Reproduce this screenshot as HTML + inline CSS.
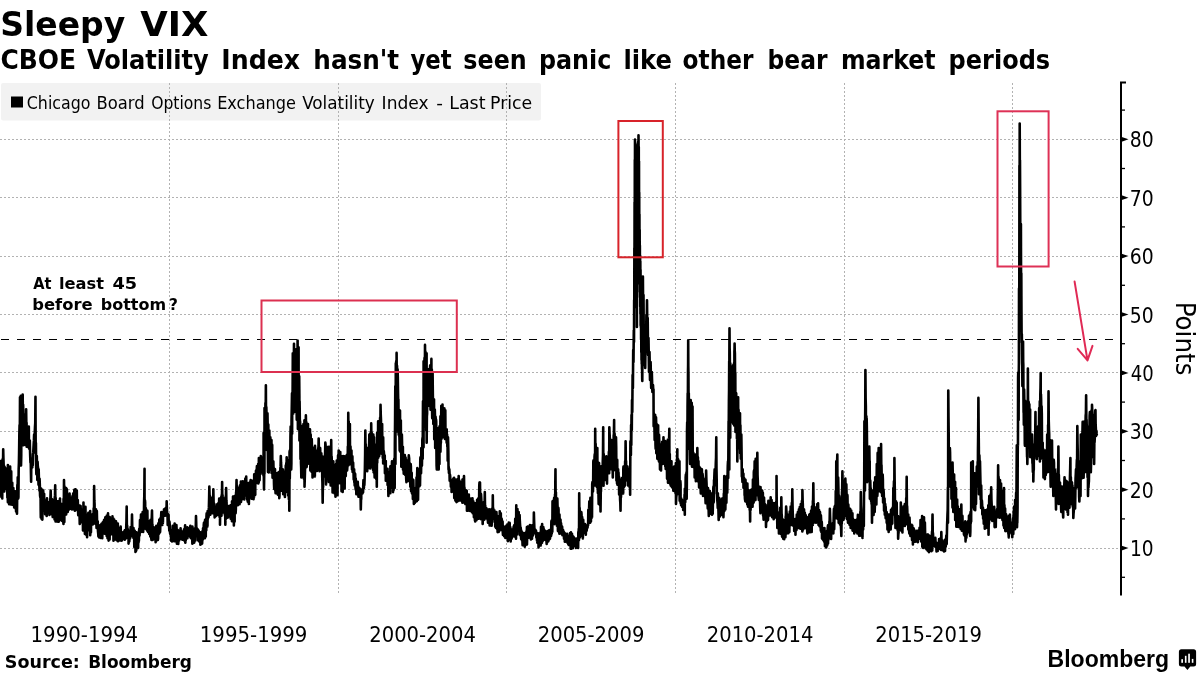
<!DOCTYPE html>
<html lang="en"><head><meta charset="utf-8"><title>Sleepy VIX</title>
<style>
html,body{margin:0;padding:0;background:#fff;}
body{width:1200px;height:675px;overflow:hidden;position:relative;font-family:"DejaVu Sans","Liberation Sans",sans-serif;}
svg{position:absolute;left:0;top:0;display:block}
text{font-family:"DejaVu Sans","Liberation Sans",sans-serif;fill:#000}
.cond{font-family:"DejaVu Sans Condensed","DejaVu Sans","Liberation Sans",sans-serif}
.lib{font-family:"Liberation Sans","DejaVu Sans",sans-serif}
.b{font-weight:bold}
.grid{stroke:#b2b2b2;stroke-width:1;stroke-dasharray:2 2;fill:none;shape-rendering:crispEdges}
.red{stroke-width:2;fill:none}
</style></head><body>
<svg width="1200" height="675" viewBox="0 0 1200 675">
<rect x="0" y="0" width="1200" height="675" fill="#fff"/>
<rect x="1" y="83" width="540" height="37.5" rx="2" fill="#f2f2f2"/>
<line class="grid" x1="169.5" y1="83" x2="169.5" y2="595"/>
<line class="grid" x1="338.5" y1="83" x2="338.5" y2="595"/>
<line class="grid" x1="506.5" y1="83" x2="506.5" y2="595"/>
<line class="grid" x1="675.5" y1="83" x2="675.5" y2="595"/>
<line class="grid" x1="844.5" y1="83" x2="844.5" y2="595"/>
<line class="grid" x1="1012.5" y1="83" x2="1012.5" y2="595"/>
<line class="grid" x1="0" y1="548.5" x2="1120" y2="548.5"/>
<line class="grid" x1="0" y1="489.5" x2="1120" y2="489.5"/>
<line class="grid" x1="0" y1="431.5" x2="1120" y2="431.5"/>
<line class="grid" x1="0" y1="372.5" x2="1120" y2="372.5"/>
<line class="grid" x1="0" y1="314.5" x2="1120" y2="314.5"/>
<line class="grid" x1="0" y1="256.5" x2="1120" y2="256.5"/>
<line class="grid" x1="0" y1="197.5" x2="1120" y2="197.5"/>
<line class="grid" x1="0" y1="139.5" x2="1120" y2="139.5"/>
<path d="M0.00 461.3 L0.19 485.0 L0.38 467.8 L0.58 467.4 L0.77 465.5 L1.00 463.5 L1.23 495.3 L1.44 497.1 L1.64 460.5 L1.84 465.7 L2.04 494.8 L2.24 498.4 L2.41 464.1 L2.58 479.1 L2.75 458.7 L2.98 466.8 L3.20 449.3 L3.43 458.2 L3.65 464.9 L3.86 477.8 L4.07 489.0 L4.28 491.5 L4.48 466.6 L4.70 467.4 L4.92 478.5 L5.14 489.0 L5.35 487.3 L5.53 484.2 L5.71 470.3 L5.95 468.6 L6.19 470.1 L6.43 482.1 L6.67 469.3 L6.91 478.6 L7.15 482.6 L7.39 497.7 L7.63 487.3 L7.87 502.3 L7.89 465.1 L8.12 484.3 L8.35 471.0 L8.58 468.0 L8.81 476.8 L9.05 472.1 L9.11 504.2 L9.31 492.7 L9.52 495.5 L9.72 494.0 L9.93 476.9 L10.13 466.6 L10.36 491.9 L10.58 498.2 L10.81 504.4 L11.03 502.5 L11.22 471.4 L11.44 501.8 L11.65 499.0 L11.87 486.7 L12.09 504.8 L12.26 482.8 L12.47 500.6 L12.69 489.9 L12.90 491.3 L13.12 492.1 L13.33 488.0 L13.55 494.2 L13.77 494.4 L13.99 504.2 L14.21 507.4 L14.29 495.0 L14.48 499.3 L14.67 499.0 L14.86 495.4 L15.05 506.0 L15.18 493.5 L15.32 491.3 L15.51 508.6 L15.70 507.0 L15.89 499.2 L16.08 511.6 L16.31 507.7 L16.53 494.6 L16.76 503.3 L16.98 513.7 L17.18 495.6 L17.37 484.8 L17.56 492.9 L17.76 477.2 L17.99 492.7 L18.21 498.6 L18.44 497.1 L18.67 469.3 L18.89 463.2 L19.11 451.0 L19.33 434.4 L19.56 425.1 L19.78 443.4 L20.00 397.3 L20.19 411.0 L20.38 399.5 L20.58 427.0 L20.77 395.9 L20.83 445.8 L21.03 465.4 L21.24 455.8 L21.44 408.4 L21.64 437.2 L21.66 400.1 L21.86 402.9 L22.06 398.8 L22.26 415.7 L22.46 420.8 L22.67 394.6 L22.88 413.6 L23.10 404.6 L23.32 412.6 L23.54 445.3 L23.76 414.4 L23.96 425.8 L24.15 433.8 L24.34 430.2 L24.53 429.3 L24.78 442.6 L25.02 440.0 L25.27 444.7 L25.52 444.5 L25.68 424.9 L25.91 427.5 L26.13 409.3 L26.36 425.5 L26.58 422.8 L26.67 446.7 L26.89 445.8 L27.11 444.5 L27.33 434.0 L27.56 432.4 L27.77 446.7 L27.98 437.4 L28.18 429.2 L28.39 427.4 L28.59 427.3 L28.80 426.6 L29.00 448.6 L29.20 448.4 L29.41 441.7 L29.61 448.7 L29.81 440.5 L30.01 449.8 L30.22 456.8 L30.44 462.4 L30.67 458.6 L30.89 469.8 L31.12 481.8 L31.29 460.6 L31.46 466.1 L31.64 459.2 L31.86 463.6 L32.08 465.9 L32.31 467.4 L32.53 461.3 L32.76 465.1 L32.99 454.1 L33.22 452.9 L33.45 448.2 L33.68 444.0 L33.90 440.9 L34.13 434.6 L34.35 437.4 L34.58 452.4 L34.80 431.4 L35.02 426.3 L35.24 423.2 L35.47 396.8 L35.69 447.6 L35.92 442.9 L36.14 466.6 L36.37 474.3 L36.59 464.3 L36.80 456.0 L36.98 466.6 L37.16 469.3 L37.33 480.0 L37.47 469.9 L37.60 461.7 L37.80 466.2 L38.00 467.2 L38.20 476.0 L38.40 479.9 L38.53 484.7 L38.67 469.3 L38.87 477.3 L39.07 485.8 L39.27 478.7 L39.47 490.7 L39.59 478.7 L39.82 484.7 L40.06 495.4 L40.30 497.4 L40.53 488.0 L40.67 509.3 L40.80 517.4 L40.97 510.9 L41.13 493.6 L41.30 488.9 L41.49 491.6 L41.68 518.9 L41.91 503.1 L42.14 512.5 L42.38 519.6 L42.47 489.9 L42.71 498.6 L42.96 495.4 L43.20 490.6 L43.44 499.4 L43.67 494.0 L43.91 496.4 L44.14 493.8 L44.19 509.4 L44.42 510.4 L44.65 509.2 L44.88 500.3 L45.11 514.2 L45.33 501.3 L45.34 510.8 L45.59 511.8 L45.83 507.9 L46.07 507.8 L46.31 503.5 L46.49 509.7 L46.67 516.0 L46.83 502.5 L47.00 498.2 L47.21 510.1 L47.42 507.7 L47.63 512.4 L47.81 511.0 L48.00 502.6 L48.21 509.9 L48.42 512.6 L48.63 513.0 L48.85 505.4 L49.07 506.4 L49.28 502.1 L49.41 514.9 L49.54 512.8 L49.76 506.2 L49.99 505.3 L50.22 500.0 L50.44 497.6 L50.67 490.6 L50.89 498.7 L51.12 499.0 L51.29 514.0 L51.46 507.7 L51.63 512.3 L51.80 501.2 L51.98 503.0 L52.15 499.3 L52.36 506.3 L52.56 515.1 L52.76 517.0 L52.95 504.7 L53.14 502.3 L53.33 501.3 L53.54 504.1 L53.75 512.8 L53.96 506.0 L54.17 505.3 L54.39 509.7 L54.60 519.5 L54.75 497.8 L54.98 495.4 L55.20 485.3 L55.38 499.9 L55.55 521.5 L55.65 497.8 L55.88 504.1 L56.11 503.0 L56.34 501.2 L56.57 505.9 L56.80 521.4 L56.98 520.2 L57.16 512.9 L57.33 501.3 L57.55 510.9 L57.78 510.3 L58.00 521.8 L58.18 501.3 L58.37 509.7 L58.56 505.0 L58.75 521.7 L58.98 519.1 L59.21 502.2 L59.41 512.9 L59.60 504.7 L59.80 502.0 L60.00 498.6 L60.20 516.2 L60.40 513.6 L60.61 503.7 L60.81 510.8 L61.01 506.0 L61.09 520.3 L61.28 518.4 L61.48 517.8 L61.67 512.9 L61.87 504.0 L62.02 504.1 L62.16 521.0 L62.38 519.5 L62.60 517.0 L62.82 517.1 L63.03 512.1 L63.25 521.2 L63.47 524.0 L63.55 498.7 L63.77 513.3 L64.00 480.0 L64.17 492.6 L64.34 522.1 L64.45 486.2 L64.67 497.0 L64.89 510.3 L65.11 507.5 L65.33 514.7 L65.53 511.1 L65.73 500.0 L65.93 505.5 L66.13 488.0 L66.15 514.4 L66.34 501.5 L66.54 496.3 L66.73 497.6 L66.93 489.3 L67.11 507.6 L67.34 503.9 L67.56 510.6 L67.78 511.9 L68.00 496.0 L68.20 497.5 L68.40 507.5 L68.60 496.6 L68.80 503.8 L69.00 501.2 L69.12 509.4 L69.36 503.1 L69.59 493.6 L69.83 507.2 L70.07 507.9 L70.27 502.0 L70.47 500.3 L70.67 498.6 L70.80 508.1 L70.94 508.8 L71.18 500.8 L71.41 497.7 L71.61 497.7 L71.80 502.0 L72.00 509.4 L72.13 497.4 L72.27 499.4 L72.47 496.1 L72.68 506.4 L72.89 509.2 L73.11 494.1 L73.33 493.3 L73.57 500.5 L73.81 504.5 L73.99 508.0 L74.17 493.6 L74.35 489.9 L74.52 498.6 L74.70 507.6 L74.87 510.8 L75.09 502.6 L75.31 491.9 L75.54 489.2 L75.77 502.7 L76.00 509.4 L76.20 508.8 L76.40 500.9 L76.60 491.0 L76.80 490.6 L76.94 503.6 L77.08 506.9 L77.31 506.3 L77.53 510.5 L77.75 509.2 L77.79 500.1 L78.01 507.9 L78.23 515.2 L78.45 511.8 L78.67 506.6 L78.87 512.4 L79.08 512.7 L79.29 513.8 L79.50 505.6 L79.62 518.6 L79.75 523.9 L79.96 518.6 L80.16 519.5 L80.37 516.9 L80.58 518.9 L80.61 506.1 L80.85 515.5 L81.09 509.8 L81.33 509.3 L81.57 515.1 L81.80 522.1 L82.04 520.7 L82.22 513.9 L82.40 513.0 L82.59 511.8 L82.79 517.1 L82.99 530.4 L83.23 524.9 L83.47 502.6 L83.64 520.4 L83.82 525.3 L84.00 528.0 L84.18 527.5 L84.36 511.9 L84.54 512.6 L84.72 524.8 L84.90 533.9 L85.08 511.0 L85.27 517.2 L85.46 506.8 L85.68 529.9 L85.91 526.9 L86.13 534.7 L86.31 529.9 L86.49 527.7 L86.67 514.6 L86.88 518.5 L87.09 537.2 L87.28 529.3 L87.46 527.3 L87.64 518.9 L87.89 522.9 L88.13 530.2 L88.35 512.8 L88.60 527.9 L88.84 527.6 L89.09 522.2 L89.33 513.3 L89.54 514.1 L89.76 514.8 L89.97 513.9 L90.18 511.1 L90.20 535.3 L90.39 531.5 L90.58 525.7 L90.77 527.3 L90.96 532.3 L91.15 515.0 L91.36 515.5 L91.58 517.4 L91.79 519.6 L92.00 514.6 L92.21 516.8 L92.42 520.9 L92.63 517.2 L92.83 524.4 L93.04 523.9 L93.26 515.3 L93.47 519.1 L93.68 508.4 L93.82 518.7 L93.96 523.6 L94.13 486.1 L94.36 500.7 L94.58 504.2 L94.67 517.4 L94.90 518.0 L95.14 516.6 L95.38 515.1 L95.61 520.7 L95.81 510.6 L96.00 509.3 L96.18 524.5 L96.36 522.2 L96.53 528.0 L96.68 515.0 L96.83 511.0 L97.04 520.5 L97.25 526.7 L97.50 521.0 L97.74 521.6 L97.96 531.0 L98.18 533.0 L98.40 536.3 L98.54 531.4 L98.67 525.3 L98.84 532.1 L99.02 531.5 L99.20 537.4 L99.44 534.3 L99.67 525.2 L99.87 530.2 L100.07 529.4 L100.27 536.3 L100.51 525.0 L100.75 537.9 L100.99 532.3 L101.23 525.6 L101.48 523.7 L101.64 537.9 L101.85 533.0 L102.05 526.8 L102.26 538.1 L102.46 528.4 L102.67 522.6 L102.87 529.9 L103.07 527.4 L103.27 521.8 L103.47 522.4 L103.67 523.7 L103.68 533.5 L103.90 524.8 L104.11 519.7 L104.33 531.4 L104.55 519.9 L104.72 533.7 L104.92 527.5 L105.13 524.8 L105.33 517.3 L105.56 529.5 L105.79 531.3 L105.97 531.8 L106.16 520.7 L106.33 530.3 L106.50 521.0 L106.67 536.0 L106.82 515.5 L106.97 521.0 L107.15 517.9 L107.33 527.5 L107.51 538.3 L107.76 522.0 L108.00 513.3 L108.20 534.4 L108.39 522.7 L108.59 540.6 L108.79 520.6 L108.99 520.0 L109.20 536.8 L109.41 533.9 L109.62 539.4 L109.76 517.0 L109.98 521.2 L110.21 523.4 L110.44 522.1 L110.67 522.6 L110.91 523.0 L111.15 525.2 L111.39 528.8 L111.63 534.1 L111.68 525.0 L111.87 525.5 L112.06 528.0 L112.25 528.8 L112.44 516.4 L112.65 520.9 L112.86 533.1 L113.10 527.8 L113.33 518.6 L113.47 540.7 L113.71 530.9 L113.94 530.1 L114.17 519.6 L114.42 525.1 L114.67 536.0 L114.88 534.8 L115.09 522.0 L115.31 533.8 L115.52 539.4 L115.76 528.0 L116.00 521.3 L116.25 531.5 L116.50 525.6 L116.74 525.8 L116.77 540.3 L116.97 529.1 L117.18 524.8 L117.38 533.2 L117.59 528.1 L117.79 523.5 L117.84 541.3 L118.05 539.2 L118.26 536.4 L118.46 530.4 L118.67 528.0 L118.87 540.2 L119.08 532.7 L119.29 539.3 L119.49 540.5 L119.65 533.4 L119.81 528.8 L120.02 533.7 L120.23 540.4 L120.44 538.1 L120.65 538.6 L120.65 526.6 L120.86 533.5 L121.06 532.7 L121.27 534.4 L121.47 534.7 L121.68 532.1 L121.69 540.7 L121.94 540.2 L122.18 536.9 L122.42 538.0 L122.67 533.3 L122.88 535.8 L123.08 538.5 L123.29 534.9 L123.50 538.7 L123.73 533.5 L123.94 538.9 L124.15 531.6 L124.36 534.8 L124.57 530.7 L124.78 539.8 L124.95 530.0 L125.16 531.8 L125.37 530.5 L125.58 538.8 L125.79 538.3 L126.00 536.7 L126.22 527.4 L126.44 521.2 L126.67 506.6 L126.89 529.0 L127.12 525.4 L127.27 527.0 L127.42 537.7 L127.64 528.7 L127.87 537.8 L128.09 537.5 L128.31 535.8 L128.53 530.6 L128.56 543.6 L128.75 533.1 L128.95 536.3 L129.14 540.6 L129.33 541.4 L129.49 533.7 L129.65 530.5 L129.86 531.7 L130.07 538.4 L130.26 535.2 L130.45 533.4 L130.64 527.1 L130.84 536.4 L131.03 529.8 L131.23 534.9 L131.39 529.3 L131.55 527.1 L131.78 528.5 L132.00 514.6 L132.22 525.7 L132.45 527.1 L132.64 529.7 L132.84 536.5 L133.03 528.4 L133.23 537.7 L133.37 530.6 L133.50 528.1 L133.70 533.9 L133.90 537.4 L134.10 534.5 L134.30 546.9 L134.48 544.6 L134.67 530.6 L134.86 531.1 L135.06 531.6 L135.25 542.2 L135.44 533.8 L135.47 552.0 L135.66 548.7 L135.86 548.7 L136.06 550.9 L136.26 550.3 L136.49 532.2 L136.70 543.6 L136.91 539.7 L137.12 547.4 L137.33 536.0 L137.53 541.0 L137.73 541.6 L137.93 539.5 L138.13 548.0 L138.37 534.7 L138.55 542.3 L138.72 540.3 L138.90 540.9 L139.08 530.9 L139.27 528.7 L139.51 535.6 L139.76 531.8 L140.00 520.0 L140.24 523.7 L140.47 519.7 L140.71 532.1 L140.85 520.5 L140.99 514.5 L141.20 519.6 L141.40 531.7 L141.61 518.5 L141.74 527.4 L141.97 518.7 L142.20 524.5 L142.43 519.3 L142.67 512.0 L142.91 518.0 L143.16 532.0 L143.41 521.6 L143.66 529.5 L143.87 521.5 L144.08 502.5 L144.31 495.2 L144.53 468.8 L144.59 519.9 L144.78 522.2 L144.98 500.4 L145.16 502.4 L145.33 528.0 L145.53 527.3 L145.73 508.0 L145.93 526.6 L146.12 528.9 L146.13 509.3 L146.34 519.4 L146.55 516.6 L146.75 529.5 L146.96 530.3 L147.16 513.8 L147.37 510.8 L147.58 529.7 L147.79 529.8 L148.00 532.0 L148.21 523.3 L148.41 523.5 L148.62 521.1 L148.82 531.8 L149.03 526.6 L149.23 533.9 L149.33 522.6 L149.57 532.9 L149.81 531.9 L150.05 526.1 L150.29 536.5 L150.51 519.7 L150.75 526.4 L150.99 526.7 L151.23 537.5 L151.47 540.0 L151.55 520.0 L151.78 517.0 L152.00 510.6 L152.22 525.6 L152.45 524.2 L152.58 540.0 L152.80 535.0 L153.02 531.9 L153.24 528.7 L153.47 535.7 L153.65 527.1 L153.85 537.6 L154.05 536.0 L154.26 536.2 L154.46 539.3 L154.67 528.0 L154.89 531.6 L155.11 535.2 L155.33 535.4 L155.56 530.1 L155.62 542.2 L155.85 535.4 L156.08 535.7 L156.31 525.8 L156.48 533.8 L156.66 533.0 L156.83 538.4 L157.00 534.8 L157.17 540.2 L157.33 530.6 L157.51 537.3 L157.69 533.5 L157.87 540.0 L158.10 538.3 L158.33 523.4 L158.55 531.6 L158.78 528.2 L159.00 533.8 L159.15 530.2 L159.29 519.6 L159.49 527.6 L159.69 524.1 L159.90 532.4 L160.10 531.8 L160.23 528.5 L160.37 518.4 L160.61 519.3 L160.85 518.8 L161.09 516.7 L161.33 512.0 L161.57 516.6 L161.82 520.8 L162.06 514.6 L162.30 524.9 L162.39 515.3 L162.56 523.8 L162.74 516.8 L162.92 522.9 L163.10 511.9 L163.33 511.8 L163.55 516.3 L163.78 515.0 L164.00 509.3 L164.20 511.6 L164.40 512.5 L164.61 513.9 L164.81 512.8 L165.01 515.8 L165.07 508.5 L165.27 509.7 L165.48 508.9 L165.68 513.7 L165.86 515.4 L166.04 510.3 L166.22 507.5 L166.44 514.2 L166.67 501.3 L166.89 509.7 L167.12 511.7 L167.32 515.5 L167.52 515.2 L167.72 524.9 L167.91 521.2 L168.09 523.0 L168.28 525.2 L168.41 524.5 L168.53 514.6 L168.73 522.1 L168.93 520.5 L169.13 527.3 L169.33 530.7 L169.50 521.9 L169.69 524.4 L169.87 529.9 L170.06 533.0 L170.25 534.1 L170.46 530.1 L170.67 530.6 L170.88 531.4 L171.10 540.7 L171.30 534.9 L171.51 531.0 L171.71 530.6 L171.86 536.8 L172.00 541.4 L172.22 533.5 L172.43 537.6 L172.65 525.9 L172.85 535.0 L173.05 538.0 L173.22 537.2 L173.39 539.1 L173.56 531.4 L173.76 537.9 L173.96 536.2 L174.17 541.3 L174.39 532.5 L174.62 523.6 L174.86 540.8 L175.11 541.2 L175.29 530.7 L175.47 525.3 L175.64 529.9 L175.82 538.3 L176.00 541.4 L176.21 537.1 L176.42 525.1 L176.66 530.7 L176.90 543.8 L177.11 535.9 L177.32 532.8 L177.53 530.5 L177.78 529.9 L178.02 532.7 L178.27 543.9 L178.47 539.4 L178.67 530.6 L178.84 531.0 L179.02 538.3 L179.19 540.7 L179.44 538.7 L179.68 530.6 L179.89 532.0 L180.11 538.6 L180.35 536.6 L180.60 528.3 L180.85 536.6 L181.09 535.0 L181.33 538.7 L181.51 532.8 L181.69 531.2 L181.90 535.4 L182.11 534.5 L182.31 539.6 L182.55 533.5 L182.79 539.6 L183.03 533.1 L183.18 534.1 L183.33 539.5 L183.55 534.5 L183.78 536.5 L184.00 529.3 L184.20 540.5 L184.41 538.9 L184.65 536.5 L184.89 529.8 L185.13 525.4 L185.33 542.7 L185.54 539.2 L185.74 540.4 L185.94 537.4 L186.15 538.4 L186.23 532.7 L186.46 532.4 L186.69 533.1 L186.91 530.9 L187.14 533.2 L187.37 527.3 L187.43 538.1 L187.67 530.9 L187.92 532.0 L188.17 535.8 L188.23 530.2 L188.45 536.0 L188.67 533.9 L188.89 529.9 L189.11 534.5 L189.33 528.0 L189.53 533.2 L189.74 531.6 L189.94 530.9 L190.14 533.5 L190.34 525.8 L190.41 537.4 L190.66 532.2 L190.90 536.7 L191.15 538.2 L191.15 529.6 L191.39 535.2 L191.64 538.6 L191.88 531.7 L192.12 531.8 L192.36 543.8 L192.41 526.6 L192.64 533.5 L192.87 536.3 L193.10 530.6 L193.33 530.6 L193.57 533.4 L193.80 537.6 L194.03 537.2 L194.26 542.6 L194.35 528.6 L194.56 530.0 L194.78 539.2 L194.99 536.1 L195.20 538.4 L195.41 540.4 L195.55 527.4 L195.78 527.2 L196.00 516.0 L196.20 522.3 L196.40 533.5 L196.45 527.4 L196.67 532.8 L196.89 532.5 L197.11 528.8 L197.33 536.0 L197.51 529.1 L197.68 529.3 L197.86 533.0 L198.04 535.9 L198.22 540.5 L198.44 537.9 L198.67 530.6 L198.86 535.8 L199.05 535.5 L199.24 541.4 L199.44 532.7 L199.67 534.4 L199.90 537.4 L200.14 535.3 L200.37 532.2 L200.37 544.8 L200.61 537.8 L200.85 535.7 L201.09 542.7 L201.33 536.0 L201.57 544.0 L201.80 535.7 L202.03 532.9 L202.13 543.4 L202.33 538.3 L202.53 531.1 L202.73 539.7 L202.93 539.1 L203.02 528.2 L203.27 535.1 L203.51 535.4 L203.76 524.9 L204.00 522.6 L204.23 536.8 L204.45 537.1 L204.68 532.0 L204.90 538.3 L205.04 519.9 L205.29 523.3 L205.53 532.2 L205.77 536.6 L205.86 520.3 L206.06 529.1 L206.27 530.5 L206.47 516.3 L206.67 513.3 L206.87 514.3 L207.08 523.4 L207.28 522.5 L207.49 526.4 L207.65 511.1 L207.89 518.9 L208.13 516.6 L208.36 517.3 L208.60 516.9 L208.74 509.2 L208.88 507.4 L209.11 498.2 L209.33 486.6 L209.56 494.8 L209.78 496.0 L210.00 508.3 L210.22 514.8 L210.42 511.7 L210.61 497.7 L210.81 508.8 L211.00 513.2 L211.23 505.7 L211.47 498.6 L211.64 507.0 L211.82 511.4 L212.00 512.0 L212.24 504.8 L212.48 509.1 L212.71 513.3 L212.88 496.6 L213.11 502.8 L213.33 489.3 L213.55 499.5 L213.76 512.3 L213.78 502.8 L214.00 503.6 L214.22 504.1 L214.45 511.9 L214.67 517.4 L214.82 516.0 L214.97 508.5 L215.20 508.3 L215.43 514.0 L215.62 516.3 L215.81 511.0 L216.00 506.6 L216.18 507.1 L216.37 515.6 L216.59 514.6 L216.81 512.5 L217.04 504.2 L217.18 512.2 L217.33 514.7 L217.55 505.5 L217.77 514.3 L217.99 511.3 L218.21 503.3 L218.46 512.8 L218.71 503.6 L218.95 505.9 L219.20 498.6 L219.38 504.0 L219.55 516.9 L219.77 501.8 L219.98 499.4 L220.00 524.8 L220.22 509.3 L220.45 514.8 L220.65 509.5 L220.85 500.0 L221.06 497.6 L221.27 496.9 L221.48 515.7 L221.68 495.0 L221.91 499.5 L222.13 482.1 L222.36 502.1 L222.58 495.0 L222.67 512.0 L222.91 506.4 L223.16 507.6 L223.40 509.2 L223.65 512.4 L223.82 502.8 L224.00 498.6 L224.22 506.5 L224.44 498.8 L224.66 511.0 L224.88 514.8 L225.11 505.1 L225.33 524.8 L225.51 516.3 L225.68 496.3 L225.78 519.0 L225.96 495.9 L226.13 488.0 L226.36 500.5 L226.58 502.5 L226.72 517.5 L226.86 518.0 L227.10 508.1 L227.35 508.8 L227.59 516.2 L227.83 505.9 L228.00 517.4 L228.20 515.2 L228.40 513.5 L228.60 514.2 L228.80 506.6 L228.83 516.3 L229.03 515.3 L229.23 511.1 L229.43 513.4 L229.62 515.3 L229.83 508.0 L230.04 505.8 L230.25 508.3 L230.46 510.2 L230.67 518.7 L230.77 505.0 L231.00 517.7 L231.23 505.5 L231.47 510.4 L231.70 508.0 L231.93 521.3 L232.00 501.3 L232.19 504.1 L232.39 501.9 L232.58 510.7 L232.77 520.7 L233.01 496.6 L233.22 512.0 L233.42 506.8 L233.63 511.0 L233.83 498.2 L233.87 525.4 L234.06 516.4 L234.26 512.3 L234.46 506.9 L234.65 521.6 L234.67 496.0 L234.90 497.6 L235.14 510.3 L235.38 500.5 L235.62 513.2 L235.85 509.3 L236.08 492.4 L236.31 491.3 L236.53 480.0 L236.76 489.5 L236.98 486.2 L237.19 501.9 L237.40 503.0 L237.61 505.2 L237.82 505.2 L238.03 495.2 L238.25 499.2 L238.46 495.6 L238.67 488.0 L238.89 490.2 L239.11 502.6 L239.33 498.3 L239.56 504.2 L239.78 492.7 L240.00 485.3 L240.23 497.1 L240.46 487.8 L240.68 492.0 L240.91 481.6 L241.02 502.0 L241.25 489.5 L241.48 491.3 L241.71 485.7 L241.88 499.5 L242.08 485.3 L242.27 491.3 L242.47 494.9 L242.67 481.3 L242.89 491.8 L243.11 490.6 L243.34 484.4 L243.56 481.5 L243.69 493.8 L243.89 493.9 L244.10 491.4 L244.30 499.4 L244.39 484.9 L244.63 482.4 L244.86 491.2 L245.10 494.5 L245.33 478.6 L245.53 486.0 L245.72 489.8 L245.92 484.2 L246.12 493.6 L246.21 476.6 L246.42 495.4 L246.62 494.5 L246.83 482.7 L247.04 487.5 L247.13 499.6 L247.35 499.6 L247.57 498.3 L247.78 501.6 L248.00 484.0 L248.22 488.2 L248.44 499.0 L248.66 494.2 L248.88 503.9 L249.08 482.8 L249.26 490.6 L249.43 495.1 L249.60 493.5 L249.75 490.0 L249.89 483.7 L250.08 482.2 L250.28 482.8 L250.47 481.5 L250.67 480.0 L250.89 481.5 L251.12 491.2 L251.34 483.9 L251.56 498.8 L251.64 482.3 L251.87 486.6 L252.11 485.7 L252.34 480.8 L252.52 498.3 L252.73 491.3 L252.93 485.6 L253.13 487.4 L253.33 481.3 L253.54 499.2 L253.75 494.9 L253.95 493.4 L254.16 496.7 L254.21 474.4 L254.42 481.3 L254.63 493.2 L254.84 489.0 L255.05 494.2 L255.26 494.7 L255.31 479.4 L255.54 474.9 L255.77 475.3 L256.00 470.6 L256.23 476.5 L256.47 482.3 L256.70 471.0 L256.93 466.0 L256.97 483.0 L257.18 472.1 L257.39 467.2 L257.60 481.4 L257.81 480.4 L257.97 475.1 L258.13 464.0 L258.31 483.4 L258.49 474.5 L258.67 482.7 L258.87 458.0 L259.10 461.7 L259.34 472.5 L259.58 480.1 L259.72 474.6 L259.86 462.1 L260.03 464.9 L260.20 469.0 L260.37 474.3 L260.58 473.8 L260.80 456.0 L260.98 456.7 L261.16 463.9 L261.33 472.0 L261.58 468.9 L261.83 462.5 L262.08 464.3 L262.32 469.2 L262.57 471.2 L262.67 461.3 L262.89 458.9 L263.11 466.5 L263.33 474.0 L263.55 475.8 L263.61 432.9 L263.81 475.2 L264.00 489.4 L264.23 473.3 L264.45 473.8 L264.53 408.0 L264.75 425.6 L264.98 436.2 L265.20 446.9 L265.42 403.0 L265.64 418.5 L265.87 385.3 L266.09 429.1 L266.32 407.1 L266.51 413.5 L266.70 418.8 L266.89 450.0 L267.08 437.0 L267.27 424.8 L267.47 413.3 L267.64 423.2 L267.82 450.2 L268.00 472.0 L268.16 438.0 L268.32 424.5 L268.54 455.5 L268.76 472.4 L268.95 462.9 L269.14 439.6 L269.33 430.6 L269.54 442.9 L269.75 453.7 L269.95 466.9 L270.14 444.6 L270.33 437.3 L270.50 458.2 L270.67 469.4 L270.87 462.0 L271.07 456.3 L271.27 440.7 L271.47 440.0 L271.59 472.9 L271.80 463.5 L272.00 469.6 L272.20 444.9 L272.38 465.3 L272.56 477.8 L272.75 476.3 L272.94 474.1 L273.14 463.0 L273.33 461.3 L273.55 469.9 L273.77 471.8 L273.99 483.8 L274.21 488.9 L274.28 471.0 L274.52 470.0 L274.76 471.4 L275.00 469.0 L275.15 490.0 L275.36 489.2 L275.58 493.2 L275.79 482.9 L276.00 477.3 L276.24 479.5 L276.48 485.9 L276.72 476.7 L276.96 473.2 L277.06 490.4 L277.24 481.3 L277.42 484.8 L277.60 475.5 L277.74 494.6 L277.97 494.7 L278.21 485.3 L278.44 487.2 L278.67 472.0 L278.87 476.1 L279.08 489.7 L279.29 498.2 L279.50 496.2 L279.68 485.9 L279.87 475.5 L280.06 475.3 L280.25 487.9 L280.35 468.4 L280.58 466.4 L280.80 456.0 L281.02 462.7 L281.25 466.4 L281.33 490.7 L281.55 479.7 L281.77 485.3 L281.99 484.3 L282.21 487.5 L282.44 480.6 L282.67 469.3 L282.84 481.8 L283.02 469.9 L283.19 494.2 L283.38 489.4 L283.57 478.4 L283.76 474.3 L284.00 493.4 L284.18 483.2 L284.36 482.0 L284.53 472.0 L284.72 485.9 L284.90 496.9 L285.12 489.1 L285.33 484.8 L285.55 492.0 L285.76 465.6 L285.92 490.4 L286.10 467.9 L286.29 463.1 L286.48 478.9 L286.67 457.3 L286.88 472.0 L287.09 470.9 L287.29 487.9 L287.50 462.3 L287.71 460.1 L287.76 492.7 L287.97 479.5 L288.18 495.4 L288.39 488.6 L288.59 465.2 L288.80 461.3 L288.88 499.3 L289.11 488.9 L289.33 510.7 L289.55 451.9 L289.77 450.6 L289.78 478.5 L290.00 461.0 L290.23 464.8 L290.45 436.3 L290.67 426.6 L290.84 458.0 L291.02 444.7 L291.20 469.4 L291.38 463.8 L291.55 419.3 L291.77 407.0 L292.00 393.3 L292.10 433.8 L292.24 402.7 L292.39 404.1 L292.53 405.3 L292.67 381.0 L292.80 353.3 L292.98 386.6 L293.16 405.5 L293.33 413.4 L293.56 393.5 L293.78 368.5 L294.00 343.7 L294.13 392.1 L294.36 398.6 L294.59 360.2 L294.82 358.0 L295.02 352.0 L295.22 409.6 L295.42 411.6 L295.61 396.0 L295.81 373.6 L296.00 349.3 L296.19 373.6 L296.38 361.7 L296.57 406.2 L296.76 419.7 L296.97 418.0 L297.18 416.9 L297.39 380.3 L297.60 340.5 L297.74 396.5 L297.88 429.1 L298.12 382.2 L298.36 353.3 L298.60 347.3 L298.67 408.0 L298.81 418.6 L298.96 401.0 L299.20 376.3 L299.38 395.8 L299.45 440.5 L299.60 401.3 L299.82 420.4 L300.05 421.3 L300.27 425.4 L300.49 458.9 L300.65 442.3 L300.80 426.6 L300.98 463.3 L301.16 467.8 L301.33 477.4 L301.55 460.4 L301.76 443.2 L301.97 476.9 L302.18 476.8 L302.40 460.6 L302.55 436.9 L302.70 425.7 L302.92 459.1 L303.14 469.8 L303.35 461.4 L303.47 424.0 L303.67 477.9 L303.88 449.4 L304.08 479.4 L304.25 455.9 L304.42 420.4 L304.53 486.7 L304.76 478.9 L304.98 471.1 L305.20 465.0 L305.42 422.1 L305.64 430.0 L305.87 415.4 L306.09 428.0 L306.32 422.1 L306.49 467.1 L306.67 466.7 L306.91 461.0 L307.16 457.3 L307.41 458.3 L307.61 433.6 L307.80 455.5 L308.00 424.0 L308.18 461.7 L308.35 448.9 L308.53 462.9 L308.69 459.2 L308.86 429.7 L309.03 435.7 L309.18 463.9 L309.33 464.0 L309.54 456.6 L309.76 464.2 L309.97 429.4 L310.15 435.8 L310.34 470.4 L310.50 443.1 L310.67 434.6 L310.88 455.1 L311.10 463.3 L311.32 466.0 L311.54 471.6 L311.74 439.1 L311.97 447.2 L312.19 447.1 L312.42 447.3 L312.53 477.4 L312.73 461.1 L312.93 476.1 L313.13 459.0 L313.33 448.0 L313.54 450.1 L313.75 469.3 L313.93 458.3 L314.10 462.2 L314.27 450.2 L314.47 465.6 L314.67 470.4 L314.87 476.4 L315.03 445.9 L315.27 455.9 L315.51 457.8 L315.76 462.9 L316.00 450.6 L316.24 454.7 L316.49 458.6 L316.73 457.5 L316.97 450.6 L316.99 470.9 L317.22 467.6 L317.45 469.2 L317.68 452.4 L317.91 466.9 L318.06 455.1 L318.22 448.0 L318.44 448.0 L318.67 438.6 L318.89 448.7 L319.12 450.1 L319.32 467.6 L319.52 471.1 L319.73 464.8 L319.93 470.4 L320.16 448.0 L320.38 455.0 L320.60 456.7 L320.82 462.6 L321.04 470.0 L321.19 460.6 L321.33 453.3 L321.54 462.2 L321.75 468.3 L321.95 458.1 L322.16 456.2 L322.22 476.7 L322.44 482.9 L322.67 502.7 L322.89 482.9 L323.12 487.1 L323.20 458.6 L323.42 461.0 L323.64 470.5 L323.86 456.5 L324.08 462.2 L324.30 476.5 L324.46 460.8 L324.68 459.4 L324.90 458.0 L325.12 452.8 L325.33 442.6 L325.53 444.1 L325.72 457.0 L325.91 477.5 L326.10 484.4 L326.25 465.5 L326.39 457.6 L326.58 472.7 L326.78 446.9 L326.97 455.8 L327.13 459.8 L327.30 478.1 L327.53 478.5 L327.77 448.6 L328.00 448.0 L328.20 450.9 L328.40 476.1 L328.60 474.3 L328.81 481.9 L328.84 446.9 L329.07 452.8 L329.29 458.1 L329.51 463.4 L329.74 452.8 L329.92 471.8 L330.10 475.9 L330.29 453.8 L330.48 481.0 L330.67 485.4 L330.75 446.2 L330.98 464.1 L331.20 440.0 L331.41 461.9 L331.62 479.5 L331.65 456.6 L331.88 467.1 L332.12 474.8 L332.35 463.2 L332.59 492.4 L332.84 469.1 L333.08 463.1 L333.33 461.3 L333.50 490.5 L333.68 476.4 L333.85 491.4 L334.03 482.6 L334.22 470.7 L334.41 470.3 L334.54 486.6 L334.67 493.4 L334.92 465.1 L335.17 469.7 L335.32 487.4 L335.48 496.8 L335.65 489.8 L335.83 480.7 L336.00 464.0 L336.24 471.9 L336.49 488.8 L336.72 460.5 L336.93 472.9 L337.13 479.9 L337.33 488.3 L337.54 495.1 L337.66 464.4 L337.86 473.8 L338.06 455.4 L338.26 479.6 L338.47 467.5 L338.67 450.6 L338.90 465.8 L339.13 452.3 L339.36 457.7 L339.52 483.1 L339.68 483.0 L339.88 478.5 L340.08 465.8 L340.27 452.1 L340.51 478.9 L340.74 482.1 L340.94 472.4 L341.13 466.6 L341.33 456.0 L341.52 491.3 L341.72 486.9 L341.91 458.2 L342.11 462.0 L342.30 457.3 L342.49 489.0 L342.67 492.0 L342.91 481.8 L343.15 456.1 L343.33 477.0 L343.51 484.3 L343.75 457.3 L344.00 457.3 L344.22 461.0 L344.45 471.8 L344.67 488.4 L344.77 456.2 L344.99 461.2 L345.21 457.4 L345.44 464.6 L345.66 457.5 L345.76 476.1 L345.99 458.2 L346.22 457.9 L346.44 457.5 L346.67 456.0 L346.89 454.7 L347.10 470.5 L347.32 467.4 L347.54 466.1 L347.68 464.9 L347.82 446.5 L348.04 462.9 L348.27 412.8 L348.39 424.0 L348.52 465.2 L348.72 421.5 L348.92 441.2 L349.13 446.8 L349.33 458.7 L349.51 446.5 L349.69 441.3 L349.87 424.0 L350.06 464.1 L350.28 458.2 L350.50 446.5 L350.72 460.1 L350.94 460.2 L351.12 451.7 L351.29 458.0 L351.47 450.6 L351.64 464.3 L351.82 462.3 L352.00 469.4 L352.21 461.9 L352.41 456.4 L352.60 471.9 L352.78 469.4 L352.96 462.4 L353.15 462.8 L353.34 471.6 L353.52 471.1 L353.71 479.4 L353.92 477.9 L354.13 469.3 L354.31 482.2 L354.49 478.0 L354.67 485.4 L354.83 473.2 L355.00 474.2 L355.17 473.9 L355.42 486.5 L355.66 489.3 L355.74 478.5 L355.94 481.7 L356.14 484.3 L356.33 494.3 L356.57 489.7 L356.80 482.6 L356.98 489.8 L357.16 492.6 L357.33 493.4 L357.55 488.1 L357.76 481.7 L357.98 488.1 L358.21 486.0 L358.43 496.8 L358.61 487.4 L358.82 493.2 L359.04 492.5 L359.25 489.6 L359.47 488.0 L359.53 496.7 L359.77 495.6 L360.01 495.9 L360.25 489.3 L360.35 496.9 L360.58 496.2 L360.80 509.4 L361.02 499.9 L361.25 499.0 L361.33 490.6 L361.55 489.8 L361.77 493.0 L361.99 490.3 L362.21 489.8 L362.43 489.3 L362.45 493.4 L362.65 490.5 L362.86 491.2 L363.06 492.5 L363.26 484.7 L363.47 480.0 L363.69 481.2 L363.91 488.0 L364.14 483.1 L364.36 485.1 L364.59 479.6 L364.73 474.3 L364.88 469.1 L365.11 454.8 L365.33 430.6 L365.56 454.9 L365.78 444.2 L365.87 469.4 L366.09 464.2 L366.31 465.2 L366.54 465.8 L366.76 463.0 L366.98 464.3 L367.21 471.1 L367.34 466.3 L367.47 448.0 L367.67 450.1 L367.88 454.5 L368.08 468.3 L368.26 449.4 L368.43 448.1 L368.66 459.9 L368.88 453.9 L369.11 444.9 L369.33 434.6 L369.55 441.8 L369.77 447.9 L369.99 446.4 L370.21 468.5 L370.39 455.1 L370.57 446.5 L370.75 432.2 L370.95 455.0 L371.14 461.2 L371.20 423.4 L371.42 441.2 L371.65 432.2 L371.82 466.8 L372.00 466.7 L372.24 457.0 L372.48 466.7 L372.72 448.1 L372.96 469.0 L373.15 470.0 L373.33 434.6 L373.49 438.3 L373.64 472.4 L373.86 472.6 L374.08 437.3 L374.27 468.5 L374.47 471.8 L374.67 477.4 L374.82 467.9 L374.97 444.5 L375.18 457.4 L375.38 462.4 L375.59 462.9 L375.79 476.8 L376.00 450.6 L376.18 478.0 L376.35 479.4 L376.58 466.5 L376.80 486.7 L376.98 452.0 L377.15 432.8 L377.25 462.8 L377.47 446.1 L377.69 449.7 L377.91 456.7 L378.13 421.3 L378.26 457.8 L378.50 444.3 L378.74 444.3 L378.98 425.8 L379.20 456.0 L379.42 435.4 L379.64 443.6 L379.86 437.6 L380.08 417.7 L380.11 450.6 L380.32 438.9 L380.53 404.8 L380.76 414.8 L380.98 419.7 L381.16 439.8 L381.33 453.4 L381.53 448.2 L381.73 425.5 L381.93 426.2 L382.13 424.0 L382.38 454.4 L382.58 446.4 L382.78 458.0 L382.98 446.3 L383.18 463.5 L383.18 437.4 L383.38 452.9 L383.59 458.1 L383.79 451.0 L384.00 453.3 L384.25 461.6 L384.49 457.9 L384.74 455.3 L384.93 473.2 L385.15 469.8 L385.36 471.3 L385.58 464.1 L385.79 461.1 L385.80 480.8 L386.02 473.9 L386.23 480.7 L386.45 478.1 L386.67 469.3 L386.89 472.9 L387.11 471.5 L387.33 475.2 L387.55 468.7 L387.58 484.9 L387.78 473.1 L387.99 482.1 L388.20 483.1 L388.40 496.0 L388.58 478.8 L388.77 478.6 L388.96 486.0 L389.15 482.7 L389.33 472.0 L389.54 481.8 L389.74 490.0 L389.94 479.4 L390.14 471.2 L390.34 493.2 L390.37 466.4 L390.57 476.9 L390.77 488.1 L390.97 485.4 L391.19 466.2 L391.39 476.3 L391.59 478.6 L391.80 466.7 L392.00 461.3 L392.20 479.4 L392.41 478.8 L392.61 472.5 L392.81 464.7 L393.01 467.0 L393.06 492.1 L393.24 466.9 L393.42 466.6 L393.60 490.1 L393.78 472.1 L393.96 479.1 L394.13 460.0 L394.31 458.8 L394.49 473.4 L394.67 488.0 L394.85 443.8 L395.08 420.4 L395.30 386.3 L395.38 403.2 L395.46 464.0 L395.47 408.0 L395.63 422.5 L395.80 363.3 L396.02 366.4 L396.24 361.0 L396.38 371.4 L396.53 426.7 L396.60 352.9 L396.83 388.1 L397.05 365.7 L397.26 377.2 L397.47 431.4 L397.60 369.3 L397.80 377.1 L398.00 389.9 L398.20 400.9 L398.40 399.3 L398.53 412.8 L398.67 434.7 L398.92 425.6 L399.17 436.0 L399.41 434.9 L399.66 450.6 L399.83 440.4 L400.00 410.6 L400.20 444.7 L400.39 451.6 L400.61 420.5 L400.82 420.3 L400.99 443.0 L401.16 438.5 L401.33 466.7 L401.51 465.4 L401.69 449.0 L401.87 434.6 L402.04 441.7 L402.22 461.8 L402.40 464.1 L402.58 458.8 L402.75 447.1 L402.88 446.9 L403.01 469.7 L403.26 464.4 L403.50 467.2 L403.75 473.8 L404.00 457.3 L404.20 458.8 L404.40 469.5 L404.60 465.6 L404.80 455.0 L405.02 474.7 L405.21 462.4 L405.40 459.6 L405.59 457.6 L405.80 464.2 L406.01 474.2 L406.22 479.1 L406.44 482.1 L406.67 461.3 L406.89 462.3 L407.12 479.1 L407.30 475.6 L407.49 471.6 L407.67 460.3 L407.88 475.1 L408.09 476.0 L408.30 481.0 L408.55 460.4 L408.80 455.4 L408.98 457.1 L409.16 458.5 L409.33 477.4 L409.55 477.0 L409.77 463.2 L409.96 468.6 L410.16 472.8 L410.36 486.8 L410.51 470.7 L410.67 464.0 L410.89 466.5 L411.12 491.3 L411.31 487.7 L411.49 479.8 L411.68 472.7 L411.84 488.5 L412.00 493.4 L412.20 490.8 L412.41 491.4 L412.61 479.2 L412.75 492.4 L412.88 498.9 L413.11 494.6 L413.33 480.0 L413.51 488.2 L413.69 487.4 L413.87 504.0 L414.09 496.6 L414.31 489.7 L414.52 492.4 L414.74 503.0 L414.95 499.5 L415.12 499.2 L415.29 496.2 L415.47 488.0 L415.68 500.7 L415.89 489.5 L416.10 487.5 L416.32 501.4 L416.52 477.6 L416.72 490.1 L416.93 501.1 L417.13 474.3 L417.33 468.0 L417.57 468.5 L417.81 473.0 L418.05 499.8 L418.24 483.0 L418.42 469.9 L418.62 474.0 L418.81 471.3 L419.01 475.5 L419.20 469.3 L419.27 486.3 L419.51 482.8 L419.76 471.1 L420.00 485.4 L420.14 477.1 L420.28 459.3 L420.47 457.2 L420.67 471.0 L420.86 462.4 L421.05 473.3 L421.19 464.3 L421.33 448.0 L421.52 449.0 L421.71 448.8 L421.90 465.7 L422.12 455.7 L422.33 440.2 L422.55 437.7 L422.67 458.7 L422.83 428.0 L423.00 401.3 L423.21 412.7 L423.34 425.4 L423.47 416.0 L423.56 447.3 L423.60 361.3 L423.84 376.7 L424.08 419.2 L424.31 363.9 L424.55 357.7 L424.80 426.7 L425.00 344.9 L425.23 367.1 L425.45 351.5 L425.64 358.2 L425.83 366.5 L426.02 357.4 L426.22 430.2 L426.41 374.3 L426.60 353.3 L426.67 442.7 L426.89 416.4 L427.12 413.6 L427.25 370.1 L427.38 370.0 L427.60 369.9 L427.83 380.3 L428.05 379.0 L428.28 388.5 L428.50 369.3 L428.65 396.7 L428.80 405.4 L428.99 380.0 L429.19 401.8 L429.38 383.6 L429.57 405.9 L429.78 382.9 L429.99 368.1 L430.20 365.3 L430.37 384.9 L430.53 409.8 L430.75 367.5 L430.97 366.7 L431.18 380.5 L431.40 358.9 L431.47 408.0 L431.65 399.6 L431.84 369.5 L432.03 407.8 L432.22 418.2 L432.41 415.0 L432.60 373.3 L432.84 393.8 L433.09 407.8 L433.33 424.0 L433.56 420.1 L433.78 399.6 L434.00 399.3 L434.13 416.1 L434.26 439.2 L434.45 414.5 L434.63 410.5 L434.81 409.5 L435.01 416.5 L435.20 448.0 L435.40 426.5 L435.60 416.7 L435.80 422.5 L436.00 419.3 L436.20 421.3 L436.40 446.4 L436.60 465.8 L436.80 469.4 L437.05 449.7 L437.30 428.0 L437.45 429.9 L437.60 463.3 L437.82 462.6 L438.05 438.7 L438.28 432.6 L438.49 437.1 L438.69 469.5 L438.89 439.0 L439.08 433.3 L439.27 453.6 L439.47 464.0 L439.50 426.3 L439.73 433.0 L439.96 430.2 L440.20 447.7 L440.43 416.3 L440.44 451.8 L440.65 442.2 L440.87 443.1 L441.08 428.1 L441.30 405.8 L441.45 439.0 L441.60 437.4 L441.82 433.1 L442.05 428.2 L442.27 426.2 L442.50 404.5 L442.72 433.0 L442.95 437.2 L443.13 426.9 L443.32 414.7 L443.50 408.0 L443.75 415.0 L444.00 432.0 L444.18 424.6 L444.36 408.4 L444.54 416.6 L444.73 428.5 L444.92 438.9 L445.11 414.1 L445.30 410.3 L445.44 429.3 L445.59 437.4 L445.80 434.7 L446.02 436.5 L446.23 438.7 L446.45 436.9 L446.67 442.7 L446.70 429.3 L446.90 440.9 L447.10 434.6 L447.31 446.6 L447.51 438.4 L447.71 460.7 L447.85 457.8 L448.00 437.3 L448.18 443.0 L448.36 451.3 L448.53 469.4 L448.73 466.7 L448.93 472.9 L449.13 472.4 L449.33 469.3 L449.50 472.6 L449.68 480.6 L449.92 474.5 L450.17 476.3 L450.42 481.4 L450.67 480.0 L450.86 486.6 L451.05 480.1 L451.23 480.6 L451.42 480.1 L451.60 492.0 L451.82 487.3 L452.03 487.1 L452.24 479.7 L452.45 491.2 L452.48 481.6 L452.69 481.3 L452.90 480.3 L453.12 491.5 L453.33 478.6 L453.58 480.9 L453.82 484.1 L454.06 477.8 L454.27 498.1 L454.49 494.7 L454.72 498.0 L454.94 479.2 L455.16 488.8 L455.37 500.6 L455.58 492.6 L455.79 494.0 L456.00 482.6 L456.24 488.6 L456.47 502.1 L456.65 485.9 L456.82 483.0 L456.99 481.2 L457.16 493.0 L457.33 501.4 L457.50 479.1 L457.67 479.7 L457.86 499.4 L458.05 498.3 L458.24 500.7 L458.45 486.3 L458.67 476.0 L458.86 482.7 L459.05 499.8 L459.25 497.3 L459.39 480.5 L459.58 491.1 L459.77 495.0 L459.97 482.4 L460.16 500.4 L460.37 491.4 L460.57 481.8 L460.76 492.5 L460.95 489.9 L461.14 487.6 L461.33 484.0 L461.54 500.0 L461.75 489.1 L461.96 499.7 L462.17 497.6 L462.38 502.8 L462.47 479.5 L462.69 483.5 L462.90 495.2 L463.12 494.7 L463.34 501.3 L463.55 482.2 L463.77 480.9 L464.00 476.0 L464.23 491.7 L464.45 487.4 L464.47 502.8 L464.69 495.5 L464.90 500.6 L465.12 503.5 L465.33 504.0 L465.47 491.1 L465.66 490.1 L465.85 498.5 L466.04 502.3 L466.23 500.8 L466.45 492.7 L466.67 490.6 L466.80 499.3 L466.94 510.7 L467.18 498.3 L467.42 503.7 L467.66 500.0 L467.90 495.8 L468.00 510.7 L468.20 500.4 L468.40 497.5 L468.60 502.3 L468.80 494.6 L468.98 506.1 L469.16 509.4 L469.36 502.1 L469.56 502.0 L469.76 499.2 L469.91 503.2 L470.07 511.0 L470.28 509.6 L470.49 506.5 L470.70 509.7 L470.92 510.1 L470.93 498.6 L471.13 501.2 L471.34 500.6 L471.54 511.4 L471.74 501.7 L471.87 506.7 L472.00 512.0 L472.23 509.7 L472.47 498.2 L472.70 513.3 L472.92 512.7 L473.13 509.8 L473.33 501.3 L473.52 512.3 L473.71 504.3 L473.90 517.2 L474.09 513.9 L474.20 503.2 L474.45 509.4 L474.69 509.0 L474.94 520.5 L475.18 503.4 L475.20 521.4 L475.40 512.0 L475.60 513.6 L475.80 516.9 L476.00 505.3 L476.24 508.7 L476.48 520.3 L476.69 515.9 L476.90 509.0 L477.11 499.8 L477.35 514.6 L477.55 517.3 L477.74 508.1 L477.94 501.7 L478.13 498.6 L478.31 498.6 L478.49 517.8 L478.67 518.7 L478.87 497.7 L479.07 502.0 L479.27 485.6 L479.47 482.6 L479.64 505.1 L479.82 485.2 L480.00 482.6 L480.19 499.6 L480.39 507.0 L480.58 502.9 L480.77 519.1 L480.91 493.7 L481.05 494.5 L481.27 498.4 L481.49 503.9 L481.71 511.9 L481.93 515.9 L482.13 506.6 L482.31 509.3 L482.49 511.5 L482.67 524.0 L482.90 514.0 L483.13 502.6 L483.30 519.4 L483.46 520.2 L483.68 512.1 L483.91 512.4 L484.13 507.5 L484.35 503.4 L484.41 519.6 L484.61 505.7 L484.80 492.0 L485.02 506.8 L485.25 505.5 L485.33 517.4 L485.57 516.6 L485.82 510.7 L486.06 518.3 L486.30 508.0 L486.51 514.4 L486.73 514.9 L486.94 513.2 L487.16 518.0 L487.31 518.1 L487.47 509.3 L487.64 520.0 L487.82 517.0 L488.00 522.7 L488.20 510.9 L488.39 512.3 L488.58 514.1 L488.76 513.0 L488.95 523.1 L489.15 509.3 L489.39 515.1 L489.63 525.4 L489.80 517.2 L489.96 512.5 L490.13 512.0 L490.31 521.7 L490.49 523.8 L490.67 525.4 L490.87 524.6 L491.08 518.7 L491.28 509.2 L491.46 510.3 L491.63 525.7 L491.87 518.9 L492.11 509.8 L492.35 508.3 L492.48 513.0 L492.62 515.6 L492.80 495.4 L493.02 515.5 L493.25 508.3 L493.33 517.4 L493.53 515.0 L493.73 514.7 L493.93 515.2 L494.14 518.8 L494.34 517.8 L494.40 510.4 L494.60 522.0 L494.81 515.7 L495.02 518.7 L495.23 526.6 L495.47 512.0 L495.64 519.5 L495.82 520.3 L496.00 528.0 L496.22 522.6 L496.43 512.1 L496.60 515.9 L496.77 516.1 L496.94 528.5 L497.18 529.1 L497.42 516.0 L497.60 532.1 L497.78 517.3 L497.96 527.7 L498.13 517.3 L498.31 518.1 L498.49 525.0 L498.67 532.0 L498.83 523.0 L499.00 518.6 L499.23 521.3 L499.46 526.4 L499.69 530.5 L499.76 511.3 L499.98 522.6 L500.20 528.8 L500.42 528.7 L500.63 529.0 L500.80 513.3 L500.98 525.1 L501.16 520.7 L501.33 528.0 L501.57 518.6 L501.81 519.7 L502.05 528.1 L502.29 530.7 L502.44 525.1 L502.59 521.6 L502.77 532.0 L502.96 534.8 L503.13 526.4 L503.30 531.9 L503.47 528.0 L503.64 529.1 L503.82 534.0 L504.00 536.0 L504.25 528.9 L504.50 529.5 L504.62 534.0 L504.75 536.7 L504.95 531.7 L505.16 527.6 L505.36 538.0 L505.57 526.2 L505.76 537.8 L505.99 535.3 L506.22 528.0 L506.44 530.2 L506.67 525.3 L506.87 526.3 L507.08 530.3 L507.28 532.2 L507.49 526.7 L507.70 524.3 L507.81 541.1 L508.05 536.7 L508.30 536.1 L508.54 530.0 L508.79 535.7 L508.80 522.6 L509.02 525.8 L509.23 539.6 L509.45 538.0 L509.67 522.9 L509.84 539.1 L510.05 535.0 L510.26 527.1 L510.48 528.8 L510.67 541.4 L510.87 536.0 L511.07 538.1 L511.27 534.4 L511.47 530.6 L511.56 538.7 L511.76 537.8 L511.95 532.6 L512.15 532.8 L512.35 529.3 L512.46 535.2 L512.68 529.4 L512.90 535.1 L513.11 536.1 L513.33 536.0 L513.41 529.4 L513.62 526.8 L513.83 533.1 L514.04 536.5 L514.13 525.3 L514.37 529.5 L514.62 528.0 L514.86 524.7 L515.10 532.3 L515.23 518.7 L515.36 519.4 L515.57 531.9 L515.79 518.5 L516.00 538.7 L516.13 521.9 L516.27 505.3 L516.51 527.4 L516.76 534.7 L516.98 513.6 L517.21 514.2 L517.44 509.1 L517.67 522.5 L517.90 528.2 L518.09 511.7 L518.28 527.7 L518.47 520.4 L518.67 512.0 L518.86 525.1 L519.06 517.5 L519.26 523.3 L519.46 534.6 L519.61 515.0 L519.85 521.7 L520.09 525.2 L520.33 528.0 L520.55 535.8 L520.74 527.9 L520.94 534.7 L521.14 538.9 L521.33 530.6 L521.57 535.4 L521.81 540.2 L522.04 532.4 L522.22 533.6 L522.41 541.3 L522.59 545.3 L522.82 533.5 L523.06 540.9 L523.30 533.1 L523.44 538.9 L523.58 543.4 L523.79 537.8 L524.00 534.6 L524.20 534.6 L524.40 543.3 L524.60 539.1 L524.80 546.7 L524.90 537.2 L525.10 539.5 L525.29 534.9 L525.49 532.8 L525.69 545.1 L525.83 544.4 L525.97 534.0 L526.21 541.1 L526.45 531.4 L526.68 540.4 L526.92 527.1 L526.97 544.4 L527.18 536.4 L527.38 533.2 L527.59 535.0 L527.79 532.8 L528.00 526.6 L528.22 531.3 L528.44 531.0 L528.66 536.8 L528.88 527.7 L529.10 537.6 L529.34 535.3 L529.58 533.8 L529.82 536.3 L529.94 525.1 L530.19 537.5 L530.43 529.4 L530.68 530.2 L530.92 539.4 L531.06 532.7 L531.20 529.3 L531.40 535.5 L531.60 531.7 L531.80 533.6 L532.00 538.7 L532.16 525.2 L532.36 534.6 L532.56 528.7 L532.76 535.6 L532.98 531.5 L533.20 527.8 L533.42 525.6 L533.56 528.4 L533.70 528.6 L533.87 512.5 L534.09 520.3 L534.32 526.6 L534.49 531.0 L534.67 530.7 L534.91 529.9 L535.16 529.6 L535.40 533.3 L535.60 533.7 L535.80 534.8 L536.00 530.6 L536.17 535.2 L536.34 537.3 L536.55 536.2 L536.76 532.9 L536.98 540.6 L537.19 534.8 L537.33 542.7 L537.55 539.5 L537.77 540.2 L537.99 534.8 L538.21 533.2 L538.38 538.2 L538.56 547.5 L538.77 538.6 L538.99 542.3 L539.20 536.0 L539.39 540.6 L539.58 542.1 L539.77 542.3 L539.96 538.2 L540.14 533.8 L540.32 532.6 L540.56 538.4 L540.80 545.4 L540.98 526.9 L541.19 533.3 L541.41 538.3 L541.62 539.5 L541.83 526.1 L542.04 542.7 L542.13 524.0 L542.35 540.7 L542.56 530.0 L542.77 541.0 L542.98 540.6 L543.12 527.4 L543.33 527.1 L543.55 531.7 L543.76 529.0 L544.00 538.7 L544.20 537.7 L544.40 532.6 L544.60 538.2 L544.80 530.6 L544.96 538.4 L545.17 535.3 L545.39 540.0 L545.60 538.9 L545.81 539.1 L545.87 532.4 L546.07 540.8 L546.27 538.3 L546.47 541.1 L546.67 544.0 L546.88 537.2 L547.09 531.3 L547.34 542.2 L547.59 536.7 L547.84 541.5 L548.00 534.6 L548.19 541.3 L548.38 538.7 L548.58 540.6 L548.70 536.7 L548.83 530.3 L549.04 533.6 L549.25 539.5 L549.46 539.0 L549.67 537.6 L549.74 530.1 L549.98 538.6 L550.21 533.0 L550.44 533.7 L550.67 530.6 L550.90 536.3 L551.13 535.8 L551.36 521.8 L551.59 520.6 L551.71 533.6 L551.91 524.6 L552.11 528.0 L552.32 531.7 L552.53 501.3 L552.77 504.9 L553.00 504.6 L553.23 500.7 L553.33 522.7 L553.54 512.8 L553.75 511.6 L553.95 500.7 L554.16 497.9 L554.37 524.1 L554.59 499.0 L554.80 516.8 L555.02 494.3 L555.09 522.7 L555.28 486.0 L555.47 469.3 L555.69 504.7 L555.92 492.2 L556.00 522.7 L556.22 508.1 L556.44 518.8 L556.65 515.4 L556.87 525.6 L557.10 523.7 L557.33 498.6 L557.53 505.7 L557.73 518.3 L557.93 531.1 L558.13 516.5 L558.34 507.8 L558.54 509.2 L558.67 529.4 L558.91 525.1 L559.16 528.2 L559.40 533.7 L559.47 514.6 L559.68 522.4 L559.89 521.1 L560.10 519.9 L560.32 519.5 L560.53 519.9 L560.60 531.6 L560.84 528.5 L561.09 523.2 L561.33 533.4 L561.40 525.5 L561.64 530.6 L561.89 528.2 L562.13 526.6 L562.27 529.4 L562.40 535.2 L562.62 534.7 L562.83 530.9 L563.05 535.1 L563.10 530.1 L563.33 535.4 L563.56 534.8 L563.79 531.9 L564.00 538.7 L564.20 537.5 L564.40 535.5 L564.60 532.9 L564.80 533.3 L564.83 541.8 L565.07 537.9 L565.30 537.8 L565.54 535.0 L565.78 539.5 L565.86 536.1 L566.06 538.5 L566.26 538.2 L566.47 539.2 L566.67 541.4 L566.86 538.9 L567.05 533.9 L567.25 538.0 L567.44 542.7 L567.63 541.4 L567.82 542.2 L568.00 538.6 L568.21 544.0 L568.41 541.9 L568.62 544.9 L568.77 540.4 L568.91 535.9 L569.10 538.2 L569.29 541.8 L569.48 543.4 L569.66 539.2 L569.83 537.4 L570.01 533.0 L570.23 540.6 L570.45 541.5 L570.67 548.8 L570.81 535.9 L570.95 532.2 L571.16 545.9 L571.36 548.4 L571.57 548.6 L571.78 537.8 L572.00 533.8 L572.20 539.4 L572.40 544.5 L572.60 542.9 L572.80 548.2 L572.83 538.9 L573.06 536.2 L573.28 545.6 L573.50 545.9 L573.68 540.9 L573.85 537.3 L574.05 538.4 L574.26 538.7 L574.46 538.9 L574.67 538.6 L574.87 543.4 L575.08 540.4 L575.29 543.1 L575.50 540.7 L575.69 547.0 L575.88 547.9 L576.09 542.1 L576.29 538.6 L576.49 542.4 L576.69 541.1 L576.89 543.9 L577.09 545.5 L577.33 538.6 L577.53 547.4 L577.73 543.9 L577.93 542.2 L578.13 548.0 L578.34 531.9 L578.54 536.5 L578.75 528.7 L578.93 540.2 L579.06 528.9 L579.20 493.3 L579.43 523.9 L579.65 507.9 L579.83 537.6 L580.02 536.3 L580.21 531.8 L580.41 532.1 L580.60 529.1 L580.80 536.0 L580.98 519.4 L581.16 512.7 L581.33 512.0 L581.53 514.1 L581.73 526.2 L581.93 532.3 L582.17 517.0 L582.41 523.1 L582.63 527.0 L582.86 538.4 L583.05 527.2 L583.24 519.9 L583.43 530.8 L583.62 527.6 L583.81 530.8 L584.00 526.6 L584.22 530.0 L584.43 530.2 L584.65 529.3 L584.86 526.6 L585.08 532.7 L585.08 524.1 L585.32 528.1 L585.57 530.4 L585.81 534.7 L585.98 528.6 L586.16 527.3 L586.33 526.0 L586.50 526.2 L586.67 530.7 L586.84 527.0 L587.02 528.6 L587.20 525.3 L587.37 525.4 L587.54 527.6 L587.70 525.3 L587.91 524.6 L588.11 525.3 L588.31 509.9 L588.44 522.3 L588.66 516.0 L588.89 511.2 L589.11 508.4 L589.33 501.3 L589.53 501.2 L589.72 506.3 L589.92 519.4 L590.12 522.8 L590.37 497.9 L590.55 507.6 L590.74 517.8 L590.92 521.4 L591.11 508.7 L591.29 510.5 L591.47 498.6 L591.64 509.7 L591.82 512.1 L592.00 517.4 L592.21 484.1 L592.43 482.1 L592.61 489.8 L592.80 491.7 L592.98 491.2 L593.16 482.2 L593.33 461.3 L593.53 460.4 L593.73 469.9 L593.93 469.5 L594.13 485.4 L594.34 468.2 L594.54 456.6 L594.75 454.1 L594.91 484.2 L595.05 468.0 L595.20 428.8 L595.43 456.5 L595.65 443.7 L595.83 476.1 L596.00 485.4 L596.23 479.4 L596.46 485.3 L596.70 455.9 L596.93 487.2 L597.13 479.6 L597.33 448.0 L597.51 482.1 L597.70 466.4 L597.88 493.0 L598.08 492.2 L598.28 468.8 L598.47 493.7 L598.67 504.0 L598.87 463.5 L599.06 462.9 L599.30 503.6 L599.53 489.3 L599.77 479.0 L600.00 472.0 L600.08 505.7 L600.31 497.0 L600.53 511.5 L600.76 492.0 L600.98 491.1 L601.08 466.2 L601.31 469.0 L601.54 477.3 L601.77 467.3 L601.99 466.6 L602.22 478.3 L602.44 485.2 L602.67 485.4 L602.75 462.1 L602.98 455.1 L603.20 427.2 L603.37 479.2 L603.54 485.8 L603.65 453.8 L603.88 460.3 L604.11 478.1 L604.34 479.6 L604.57 462.3 L604.80 480.0 L604.98 465.4 L605.16 470.2 L605.33 461.3 L605.54 466.7 L605.74 469.0 L605.94 475.8 L606.13 465.7 L606.32 456.2 L606.55 466.6 L606.78 470.7 L607.02 483.6 L607.24 460.8 L607.47 458.6 L607.69 459.5 L607.92 473.2 L608.16 472.3 L608.40 471.0 L608.64 467.1 L608.88 451.7 L609.02 469.4 L609.15 473.2 L609.33 427.2 L609.56 433.3 L609.78 437.2 L609.96 440.6 L610.13 466.7 L610.35 452.7 L610.56 459.9 L610.77 454.9 L610.99 465.0 L611.20 442.0 L611.41 469.2 L611.47 440.0 L611.69 456.9 L611.91 447.1 L612.13 465.5 L612.35 469.0 L612.55 440.5 L612.67 467.5 L612.80 477.4 L613.02 463.3 L613.25 471.1 L613.47 459.0 L613.68 435.6 L613.91 433.9 L614.13 420.0 L614.30 460.9 L614.44 447.6 L614.58 433.5 L614.80 441.7 L615.03 444.9 L615.25 436.7 L615.47 469.4 L615.64 470.1 L615.82 458.6 L616.00 437.3 L616.21 446.7 L616.42 480.5 L616.63 480.4 L616.83 471.7 L617.04 483.6 L617.24 459.9 L617.43 484.8 L617.67 481.6 L617.90 482.1 L618.13 469.3 L618.33 482.4 L618.53 472.5 L618.73 479.5 L618.93 476.5 L619.13 494.6 L619.35 483.3 L619.58 487.4 L619.81 479.6 L619.94 486.0 L620.08 499.3 L620.31 502.7 L620.53 510.7 L620.67 498.9 L620.80 488.0 L620.98 497.2 L621.19 490.5 L621.40 489.5 L621.61 488.8 L621.82 478.0 L622.03 485.7 L622.24 491.8 L622.45 488.2 L622.67 479.0 L622.84 484.5 L623.02 484.1 L623.20 493.4 L623.33 468.5 L623.47 466.6 L623.68 478.7 L623.90 481.8 L624.12 486.9 L624.37 484.3 L624.61 484.8 L624.86 485.8 L625.00 468.5 L625.15 461.1 L625.38 467.3 L625.60 441.3 L625.73 450.0 L625.87 477.4 L626.05 461.1 L626.25 477.0 L626.45 476.0 L626.66 473.3 L626.86 468.2 L627.06 480.6 L627.26 477.6 L627.47 466.6 L627.64 475.3 L627.82 476.3 L628.00 485.4 L628.25 470.3 L628.49 468.8 L628.70 473.1 L628.91 474.8 L629.12 469.9 L629.33 469.3 L629.51 480.5 L629.68 487.4 L629.91 472.2 L630.13 494.7 L630.26 466.9 L630.40 441.4 L630.56 444.2 L630.73 443.5 L630.90 455.0 L631.10 425.0 L631.30 445.0 L631.50 415.0 L631.80 430.0 L632.00 400.0 L632.30 412.0 L632.60 375.0 L632.90 388.0 L633.20 350.0 L633.50 362.0 L633.80 330.0 L634.00 342.0 L634.15 300.1 L634.26 308.2 L634.37 248.1 L634.48 271.2 L634.59 202.1 L634.70 249.9 L634.81 159.7 L634.92 238.9 L635.00 139.5 L635.03 142.9 L635.14 240.3 L635.25 143.0 L635.36 241.1 L635.47 145.2 L635.58 248.0 L635.69 148.5 L635.80 240.7 L635.91 146.8 L636.02 260.9 L636.13 149.7 L636.24 281.8 L636.35 146.5 L636.46 263.5 L636.57 146.6 L636.68 306.4 L636.79 149.2 L636.90 306.7 L636.90 327.0 L637.01 147.3 L637.12 282.7 L637.23 146.5 L637.34 272.5 L637.45 147.8 L637.56 283.2 L637.67 147.9 L637.78 246.5 L637.89 144.2 L638.00 252.4 L638.11 142.1 L638.22 240.8 L638.33 141.0 L638.44 249.2 L638.50 135.3 L638.55 140.7 L638.66 240.9 L638.77 146.7 L638.88 243.3 L638.99 161.1 L639.10 256.6 L639.21 192.4 L639.32 279.0 L639.43 214.3 L639.54 282.1 L639.65 229.7 L639.76 292.0 L639.87 245.5 L639.98 297.3 L640.09 254.9 L640.20 306.4 L640.31 261.2 L640.42 314.1 L640.53 269.8 L640.64 325.5 L640.75 277.9 L640.86 327.3 L640.97 291.8 L641.08 339.6 L641.19 303.9 L641.30 352.2 L641.41 317.9 L641.52 360.0 L641.63 333.4 L641.74 364.1 L641.85 346.4 L641.96 369.2 L642.07 364.4 L642.18 378.7 L642.30 381.0 L642.50 330.0 L642.70 345.0 L642.90 276.6 L643.20 320.0 L643.50 295.0 L643.80 345.0 L644.10 325.0 L644.50 365.0 L644.80 350.0 L645.20 368.0 L645.60 340.0 L646.00 352.0 L646.40 315.0 L646.70 330.0 L647.00 300.3 L647.40 335.0 L647.70 318.0 L648.10 355.0 L648.50 338.0 L649.00 372.0 L649.50 352.0 L650.00 380.0 L650.60 362.0 L651.20 388.0 L651.80 372.0 L652.40 392.0 L653.00 385.0 L653.25 390.8 L653.50 389.3 L653.65 426.2 L653.87 413.3 L654.07 420.6 L654.27 415.2 L654.47 428.8 L654.67 440.0 L654.89 420.8 L655.11 414.9 L655.29 419.1 L655.48 444.6 L655.66 448.6 L655.83 428.3 L656.00 417.3 L656.16 422.3 L656.32 453.2 L656.56 424.8 L656.80 426.8 L657.04 424.2 L657.19 436.7 L657.33 458.7 L657.57 426.0 L657.81 459.1 L658.05 452.9 L658.13 425.3 L658.34 459.0 L658.55 456.1 L658.76 457.2 L658.97 461.4 L659.03 434.7 L659.27 441.4 L659.51 448.6 L659.76 453.2 L660.00 469.4 L660.13 461.3 L660.27 445.3 L660.46 457.8 L660.65 454.8 L660.84 466.1 L661.04 470.5 L661.14 444.2 L661.38 446.4 L661.62 459.0 L661.86 463.5 L662.03 454.1 L662.20 441.8 L662.43 451.0 L662.67 464.0 L662.87 455.1 L663.07 462.6 L663.27 453.7 L663.47 437.3 L663.64 460.9 L663.85 452.8 L664.06 443.8 L664.28 456.9 L664.40 443.6 L664.62 449.4 L664.85 455.7 L665.07 464.8 L665.29 441.0 L665.33 466.7 L665.52 458.1 L665.71 468.9 L665.90 451.1 L666.09 464.5 L666.13 442.6 L666.37 445.5 L666.60 464.8 L666.83 460.7 L667.07 478.8 L667.08 442.8 L667.28 445.8 L667.47 459.4 L667.67 468.9 L667.86 439.6 L668.00 482.7 L668.21 478.5 L668.41 445.8 L668.62 467.9 L668.82 474.9 L668.88 439.6 L669.11 438.4 L669.33 428.8 L669.46 479.1 L669.59 482.1 L669.78 454.1 L670.00 483.7 L670.23 481.9 L670.45 472.2 L670.67 485.4 L670.87 482.5 L671.07 473.7 L671.27 486.2 L671.47 461.3 L671.50 480.8 L671.74 477.1 L671.99 483.3 L672.23 487.5 L672.47 469.3 L672.63 481.1 L672.86 468.5 L673.09 471.8 L673.32 467.4 L673.33 490.7 L673.53 472.6 L673.73 479.0 L673.93 474.4 L674.13 466.6 L674.30 479.6 L674.47 487.9 L674.67 491.1 L674.87 485.7 L675.07 469.8 L675.31 471.4 L675.55 493.6 L675.71 471.5 L675.87 463.1 L676.00 504.0 L676.23 497.7 L676.45 495.7 L676.67 486.8 L676.88 462.8 L677.11 458.1 L677.33 449.3 L677.37 494.2 L677.58 466.8 L677.78 458.7 L678.00 474.1 L678.23 459.5 L678.45 492.1 L678.67 493.4 L678.87 461.9 L679.07 482.5 L679.27 481.4 L679.47 461.3 L679.66 500.8 L679.89 488.4 L680.12 491.0 L680.35 481.0 L680.58 484.4 L680.58 502.9 L680.83 501.5 L681.08 505.2 L681.33 498.6 L681.56 503.9 L681.78 500.0 L682.01 499.8 L682.23 506.9 L682.39 501.1 L682.59 503.9 L682.79 507.5 L682.99 502.2 L683.19 503.0 L683.21 510.0 L683.41 502.8 L683.60 503.1 L683.80 505.6 L684.00 501.3 L684.17 501.9 L684.35 508.5 L684.57 494.6 L684.80 514.7 L684.81 488.8 L685.03 492.9 L685.25 502.2 L685.46 494.4 L685.66 477.7 L685.87 474.6 L686.07 490.2 L686.27 497.2 L686.47 472.4 L686.67 498.7 L686.83 485.0 L687.00 431.3 L687.20 422.2 L687.40 438.7 L687.55 406.8 L687.70 393.3 L687.85 407.0 L688.00 371.3 L688.11 364.5 L688.20 340.3 L688.31 366.0 L688.45 373.3 L688.62 413.7 L688.80 393.3 L689.00 448.7 L689.20 440.3 L689.40 422.7 L689.60 401.3 L689.78 446.5 L689.96 459.5 L690.13 464.0 L690.31 458.1 L690.49 436.1 L690.67 400.0 L690.90 440.4 L691.13 448.6 L691.32 417.9 L691.52 423.0 L691.71 402.9 L691.85 408.0 L692.00 466.7 L692.18 437.8 L692.36 423.9 L692.53 406.6 L692.74 455.6 L692.95 458.1 L693.17 466.1 L693.38 452.9 L693.59 464.7 L693.73 467.2 L693.87 456.0 L694.07 457.9 L694.27 466.2 L694.47 458.6 L694.67 477.4 L694.87 474.3 L695.07 457.9 L695.27 463.0 L695.47 454.6 L695.66 461.4 L695.86 481.3 L696.10 458.0 L696.33 457.1 L696.53 469.7 L696.73 465.7 L696.93 478.5 L697.13 480.2 L697.33 448.0 L697.53 461.6 L697.73 470.0 L697.93 457.2 L698.13 481.4 L698.25 461.6 L698.46 460.9 L698.66 472.6 L698.87 476.8 L699.08 487.4 L699.20 466.6 L699.39 466.9 L699.57 475.0 L699.76 487.4 L700.00 481.4 L700.24 468.0 L700.43 472.6 L700.61 489.2 L700.80 493.4 L700.94 486.9 L701.09 476.1 L701.31 481.2 L701.52 491.9 L701.74 492.3 L701.87 469.3 L702.10 478.3 L702.33 480.8 L702.56 473.9 L702.80 476.4 L703.03 496.0 L703.27 492.6 L703.52 492.3 L703.76 482.8 L704.00 480.0 L704.19 495.0 L704.39 479.5 L704.58 485.8 L704.78 495.3 L704.99 485.9 L705.20 495.7 L705.41 498.1 L705.62 503.2 L705.68 477.9 L705.91 486.0 L706.13 470.6 L706.36 479.5 L706.58 484.2 L706.67 501.4 L706.88 496.2 L707.10 499.9 L707.32 497.7 L707.54 503.4 L707.76 508.5 L708.00 488.0 L708.20 493.6 L708.40 492.6 L708.60 508.8 L708.80 516.0 L708.85 496.3 L709.05 510.8 L709.25 508.5 L709.45 492.3 L709.65 495.6 L709.85 491.0 L709.86 509.9 L710.06 496.4 L710.27 508.2 L710.47 495.6 L710.67 493.3 L710.88 499.2 L711.09 513.9 L711.30 511.4 L711.51 498.0 L711.76 510.3 L712.00 514.7 L712.19 497.6 L712.37 494.2 L712.56 493.2 L712.70 513.8 L712.91 502.7 L713.12 503.6 L713.33 488.0 L713.46 486.5 L713.59 502.6 L713.80 501.3 L714.02 480.0 L714.23 479.6 L714.45 473.6 L714.67 469.3 L714.89 477.3 L715.12 470.1 L715.34 477.6 L715.56 485.3 L715.69 467.3 L715.82 462.3 L716.04 457.6 L716.27 437.3 L716.49 469.0 L716.72 481.0 L716.80 493.4 L717.04 494.4 L717.27 499.9 L717.51 502.8 L717.75 508.0 L717.87 493.3 L718.07 504.2 L718.27 507.1 L718.47 510.9 L718.67 520.0 L718.87 512.7 L719.07 497.7 L719.27 500.3 L719.47 498.6 L719.64 500.6 L719.82 516.6 L720.00 501.3 L720.21 511.5 L720.43 509.1 L720.64 501.6 L720.85 515.3 L721.06 506.2 L721.27 503.5 L721.47 505.0 L721.68 511.8 L721.90 509.3 L722.13 498.6 L722.31 507.7 L722.49 514.5 L722.67 514.7 L722.85 503.7 L723.04 506.3 L723.23 509.2 L723.42 517.1 L723.62 509.6 L723.82 493.6 L724.04 495.4 L724.27 476.0 L724.34 511.1 L724.53 483.3 L724.72 485.3 L724.92 489.7 L725.13 490.2 L725.33 509.4 L725.51 501.6 L725.69 490.4 L725.87 488.0 L726.00 497.0 L726.13 498.2 L726.38 502.7 L726.63 486.1 L726.87 476.1 L727.12 478.1 L727.27 492.8 L727.51 478.2 L727.76 466.0 L728.00 461.3 L728.20 477.9 L728.40 448.4 L728.60 421.3 L728.75 425.5 L728.90 401.3 L729.05 390.1 L729.20 361.3 L729.33 469.4 L729.36 354.0 L729.50 328.3 L729.64 347.8 L729.80 353.3 L730.03 389.0 L730.25 437.7 L730.30 363.3 L730.52 379.9 L730.75 388.8 L730.98 379.5 L731.20 421.4 L731.35 367.4 L731.50 367.3 L731.71 398.3 L731.93 417.5 L732.14 422.2 L732.35 389.2 L732.57 407.1 L732.78 389.7 L733.00 365.3 L733.17 406.5 L733.33 424.0 L733.56 407.5 L733.78 403.1 L734.00 363.3 L734.18 425.5 L734.35 416.9 L734.40 351.3 L734.51 349.6 L734.60 343.6 L734.74 351.2 L734.90 353.3 L735.10 377.1 L735.30 373.3 L735.47 432.0 L735.71 398.4 L735.96 393.1 L736.20 393.3 L736.40 413.4 L736.60 407.4 L736.80 408.0 L736.88 438.5 L737.00 406.3 L737.17 433.3 L737.33 461.4 L737.51 437.9 L737.68 404.3 L737.78 448.9 L737.96 447.3 L738.13 397.3 L738.36 439.2 L738.58 409.8 L738.79 436.3 L738.99 424.6 L739.20 445.4 L739.40 429.5 L739.60 421.5 L739.80 431.7 L740.00 413.3 L740.20 453.2 L740.40 425.3 L740.60 449.3 L740.80 458.7 L740.98 453.3 L741.16 454.6 L741.33 434.6 L741.58 453.1 L741.83 476.6 L742.04 470.0 L742.25 477.1 L742.46 482.0 L742.67 469.3 L742.86 478.4 L743.05 479.7 L743.24 475.9 L743.43 473.7 L743.48 487.8 L743.69 485.5 L743.90 484.0 L744.11 478.1 L744.32 480.2 L744.53 480.0 L744.58 495.3 L744.77 494.9 L744.96 499.1 L745.15 500.1 L745.33 501.4 L745.50 479.7 L745.72 487.0 L745.95 490.0 L746.17 492.2 L746.40 500.6 L746.53 495.3 L746.67 485.3 L746.87 500.9 L747.07 502.2 L747.27 504.5 L747.37 483.6 L747.58 494.8 L747.79 489.6 L748.00 506.7 L748.20 491.5 L748.41 492.9 L748.61 492.9 L748.85 497.0 L749.09 490.5 L749.33 490.6 L749.51 500.4 L749.68 509.9 L749.91 506.2 L750.13 521.4 L750.27 497.8 L750.43 496.1 L750.58 509.9 L750.80 500.3 L751.01 489.8 L751.25 490.2 L751.48 501.1 L751.72 503.7 L751.86 491.4 L752.00 489.3 L752.18 506.0 L752.36 502.4 L752.53 506.7 L752.74 498.7 L752.94 479.6 L753.17 484.4 L753.41 489.3 L753.64 502.6 L753.81 472.2 L754.03 470.3 L754.24 477.3 L754.45 475.5 L754.67 461.3 L754.87 498.6 L755.08 493.3 L755.29 470.5 L755.49 500.1 L755.67 458.8 L755.86 467.5 L756.05 467.3 L756.24 468.2 L756.42 495.3 L756.65 481.5 L756.88 459.4 L757.11 474.8 L757.33 452.8 L757.56 475.3 L757.78 480.2 L757.99 487.8 L758.19 487.2 L758.39 485.8 L758.59 497.7 L758.81 500.0 L759.03 489.3 L759.25 493.2 L759.47 488.0 L759.71 492.1 L759.95 498.6 L760.19 507.0 L760.43 513.2 L760.51 487.1 L760.70 491.7 L760.89 494.0 L761.09 494.1 L761.16 504.5 L761.40 504.4 L761.65 499.9 L761.89 507.9 L762.13 490.6 L762.38 495.9 L762.62 502.5 L762.86 492.8 L763.06 515.2 L763.25 515.5 L763.44 516.4 L763.63 519.7 L763.82 517.6 L764.01 497.6 L764.21 503.0 L764.40 514.8 L764.60 504.2 L764.80 504.0 L765.00 510.3 L765.21 519.4 L765.41 507.1 L765.61 504.9 L765.81 509.3 L766.01 526.9 L766.22 518.5 L766.44 509.0 L766.61 517.2 L766.78 520.8 L766.95 521.2 L767.12 510.0 L767.29 508.8 L767.47 506.6 L767.64 511.1 L767.82 514.9 L768.00 520.0 L768.20 513.9 L768.39 500.8 L768.59 514.6 L768.78 509.2 L768.98 514.9 L769.16 509.1 L769.34 504.6 L769.51 504.0 L769.69 512.3 L769.87 509.3 L770.05 513.5 L770.26 515.5 L770.46 510.7 L770.67 497.3 L770.84 503.6 L771.02 506.9 L771.20 514.7 L771.39 507.5 L771.59 500.1 L771.78 513.1 L771.97 507.4 L772.17 517.3 L772.39 504.9 L772.62 502.9 L772.86 507.2 L773.10 507.7 L773.33 504.0 L773.50 508.0 L773.66 519.3 L773.86 513.2 L774.05 512.7 L774.25 503.4 L774.46 513.3 L774.67 517.4 L774.84 511.8 L775.02 513.4 L775.20 509.3 L775.36 517.4 L775.60 511.8 L775.84 506.2 L776.08 502.0 L776.30 503.6 L776.51 517.6 L776.53 476.0 L776.76 508.3 L776.98 506.1 L777.16 517.0 L777.33 528.0 L777.53 523.8 L777.73 512.2 L777.93 522.5 L778.13 514.6 L778.28 528.2 L778.50 528.3 L778.71 513.9 L778.93 533.5 L779.03 517.4 L779.27 521.6 L779.51 521.6 L779.76 525.1 L780.00 533.4 L780.14 507.9 L780.39 519.0 L780.64 512.4 L780.88 510.8 L781.12 534.1 L781.33 497.3 L781.56 513.5 L781.78 515.0 L781.93 520.0 L782.08 536.8 L782.31 519.0 L782.53 519.0 L782.75 525.6 L782.98 536.1 L783.20 538.7 L783.33 522.6 L783.47 520.0 L783.71 526.4 L783.96 528.1 L784.20 539.3 L784.39 528.3 L784.58 520.2 L784.79 529.8 L784.99 520.9 L785.20 521.6 L785.41 537.1 L785.55 533.1 L785.68 517.0 L785.91 515.3 L786.13 506.6 L786.36 510.5 L786.58 512.9 L786.67 533.4 L786.90 525.1 L787.13 529.0 L787.36 531.7 L787.59 520.0 L787.67 531.7 L787.89 532.0 L788.11 523.2 L788.33 533.2 L788.56 527.7 L788.80 514.6 L788.98 521.4 L789.16 522.7 L789.33 532.0 L789.56 519.2 L789.79 511.5 L790.00 521.7 L790.21 524.7 L790.44 517.0 L790.67 506.6 L790.83 515.3 L791.00 524.9 L791.21 522.4 L791.41 514.6 L791.61 518.1 L791.82 502.8 L792.00 522.7 L792.13 514.2 L792.27 489.3 L792.49 502.6 L792.72 513.2 L792.88 515.4 L793.05 525.6 L793.27 522.6 L793.48 524.0 L793.70 518.8 L793.92 519.4 L794.13 520.0 L794.21 530.9 L794.46 530.9 L794.70 530.9 L794.95 529.8 L795.19 521.8 L795.33 520.2 L795.47 534.7 L795.61 527.1 L795.75 520.6 L795.94 518.9 L796.13 524.0 L796.32 526.7 L796.50 530.1 L796.65 519.3 L796.80 514.6 L797.04 519.9 L797.29 526.5 L797.53 526.2 L797.69 517.9 L797.86 512.1 L798.06 518.8 L798.26 519.7 L798.46 511.6 L798.67 528.0 L798.80 522.3 L798.93 509.3 L799.14 526.2 L799.34 512.2 L799.55 522.7 L799.76 507.0 L799.95 512.0 L800.13 518.7 L800.32 528.8 L800.56 523.1 L800.80 504.0 L800.98 516.5 L801.16 517.2 L801.33 528.0 L801.54 515.5 L801.74 507.0 L801.95 500.9 L802.14 517.2 L802.33 531.5 L802.40 490.1 L802.62 500.1 L802.85 505.1 L803.03 529.6 L803.27 522.0 L803.51 522.4 L803.76 514.3 L804.00 509.3 L804.20 514.2 L804.41 518.8 L804.61 515.2 L804.82 512.7 L805.02 516.6 L805.15 521.2 L805.29 528.1 L805.47 516.6 L805.66 525.1 L805.85 515.2 L806.07 526.6 L806.30 527.8 L806.48 522.2 L806.67 520.0 L806.87 522.1 L807.07 526.9 L807.27 532.4 L807.47 533.4 L807.56 517.2 L807.76 526.1 L807.97 521.0 L808.18 523.9 L808.38 517.0 L808.53 529.2 L808.73 521.9 L808.93 531.3 L809.13 531.9 L809.33 514.6 L809.47 528.7 L809.68 532.1 L809.90 527.2 L810.11 514.0 L810.30 532.1 L810.48 532.0 L810.67 532.0 L810.84 525.3 L811.01 512.2 L811.23 510.5 L811.45 528.8 L811.68 532.0 L811.84 520.1 L812.00 506.6 L812.20 523.8 L812.40 512.2 L812.60 515.5 L812.80 524.9 L812.88 501.5 L813.11 499.6 L813.33 483.2 L813.56 504.2 L813.78 503.6 L813.87 522.7 L814.11 521.9 L814.35 519.8 L814.59 519.0 L814.83 519.0 L814.93 509.3 L815.14 510.1 L815.34 508.7 L815.55 516.8 L815.75 510.7 L815.95 512.1 L816.02 522.7 L816.24 512.4 L816.45 507.0 L816.67 508.0 L816.89 512.8 L817.11 509.1 L817.33 504.0 L817.58 516.8 L817.83 515.5 L818.08 503.2 L818.30 517.9 L818.52 525.0 L818.72 517.9 L818.91 509.9 L819.10 510.1 L819.29 522.9 L819.48 526.1 L819.66 514.9 L819.83 519.9 L820.00 512.0 L820.20 519.3 L820.40 519.4 L820.60 526.3 L820.80 530.7 L820.88 515.3 L821.10 519.6 L821.32 531.9 L821.53 530.8 L821.75 521.8 L821.89 524.7 L822.02 538.6 L822.24 534.9 L822.45 534.7 L822.67 528.0 L822.83 531.3 L822.99 539.8 L823.22 530.0 L823.46 536.0 L823.69 530.1 L823.84 537.3 L824.00 541.4 L824.23 541.3 L824.46 528.0 L824.71 539.1 L824.96 546.3 L825.15 537.1 L825.33 533.3 L825.58 533.8 L825.83 540.6 L826.07 531.4 L826.26 547.5 L826.50 535.7 L826.74 542.5 L826.98 531.0 L827.20 545.4 L827.40 534.9 L827.60 529.8 L827.80 527.1 L828.00 525.3 L828.05 543.4 L828.24 525.2 L828.44 539.9 L828.63 538.0 L828.83 535.4 L829.03 531.5 L829.22 536.4 L829.42 521.7 L829.64 520.9 L829.87 508.8 L830.09 516.6 L830.32 521.7 L830.52 529.9 L830.72 528.8 L830.92 532.9 L831.12 538.9 L831.34 525.7 L831.56 528.6 L831.78 532.9 L832.00 525.3 L832.05 532.0 L832.28 532.1 L832.51 531.5 L832.74 523.5 L832.94 523.0 L833.14 532.9 L833.33 533.4 L833.54 524.8 L833.75 513.8 L833.96 508.9 L834.16 529.3 L834.33 522.7 L834.50 514.0 L834.67 506.6 L834.86 515.3 L835.06 505.8 L835.26 518.4 L835.51 518.1 L835.75 491.0 L836.00 517.4 L836.13 496.4 L836.27 461.3 L836.45 483.8 L836.64 498.7 L836.82 511.8 L836.99 487.5 L837.16 459.8 L837.33 454.6 L837.50 506.0 L837.67 518.9 L837.84 516.2 L838.00 499.7 L838.17 477.5 L838.42 489.0 L838.67 522.7 L838.84 495.2 L839.02 505.6 L839.20 496.0 L839.39 500.1 L839.58 509.9 L839.78 516.8 L839.97 524.4 L840.18 523.6 L840.38 524.5 L840.59 499.9 L840.80 498.6 L840.88 525.6 L841.11 529.6 L841.33 536.0 L841.56 519.4 L841.78 523.6 L841.95 492.6 L842.17 489.9 L842.40 471.4 L842.62 484.2 L842.85 480.2 L843.03 508.9 L843.20 520.0 L843.40 502.5 L843.60 490.7 L843.80 493.1 L844.00 482.6 L844.12 518.6 L844.36 494.9 L844.60 506.1 L844.85 506.1 L845.09 487.7 L845.33 478.6 L845.55 484.7 L845.77 502.7 L845.99 511.1 L846.21 515.6 L846.34 484.3 L846.53 493.7 L846.71 506.6 L846.90 499.1 L847.09 519.3 L847.28 494.7 L847.47 496.0 L847.64 507.2 L847.82 510.0 L848.00 522.7 L848.17 520.5 L848.34 504.6 L848.51 508.1 L848.76 522.1 L848.95 512.1 L849.14 518.2 L849.33 509.3 L849.51 524.8 L849.68 511.0 L849.85 520.6 L850.01 509.8 L850.16 508.7 L850.33 514.4 L850.50 518.7 L850.67 528.0 L850.84 522.8 L851.02 517.9 L851.20 510.6 L851.33 513.7 L851.45 527.3 L851.70 513.1 L851.94 518.2 L852.19 527.2 L852.43 513.3 L852.56 530.6 L852.75 518.4 L852.95 526.8 L853.14 526.3 L853.33 520.0 L853.55 529.4 L853.77 522.7 L853.99 526.3 L854.21 520.0 L854.27 533.4 L854.47 531.3 L854.68 528.8 L854.88 521.3 L855.08 530.5 L855.29 528.0 L855.29 520.5 L855.53 528.1 L855.76 526.9 L856.00 520.0 L856.17 524.5 L856.35 521.3 L856.52 531.1 L856.70 532.0 L856.87 521.8 L857.10 530.1 L857.33 533.4 L857.51 518.9 L857.69 521.3 L857.87 514.8 L858.09 524.5 L858.31 519.5 L858.52 532.5 L858.67 517.3 L858.90 527.1 L859.14 535.7 L859.38 533.7 L859.61 533.5 L859.84 525.3 L860.07 531.5 L860.31 535.6 L860.35 511.7 L860.57 525.6 L860.80 492.0 L861.02 505.6 L861.25 509.6 L861.33 535.5 L861.57 533.2 L861.81 526.7 L862.04 527.2 L862.28 531.3 L862.51 537.9 L862.67 514.6 L862.90 517.8 L863.13 529.6 L863.36 515.5 L863.59 513.5 L863.82 526.0 L864.00 496.0 L864.22 479.5 L864.40 421.3 L864.58 431.7 L864.80 434.6 L864.96 490.4 L865.13 420.4 L865.26 407.6 L865.40 370.1 L865.62 398.1 L865.85 406.1 L865.99 447.5 L866.13 480.0 L866.27 437.8 L866.40 416.3 L866.53 424.3 L866.67 418.6 L866.83 427.3 L867.00 441.8 L867.17 482.1 L867.38 464.6 L867.59 468.6 L867.79 467.8 L868.00 450.6 L868.20 468.3 L868.41 476.9 L868.61 461.0 L868.81 477.8 L869.01 475.6 L869.17 450.9 L869.33 446.6 L869.51 462.6 L869.69 460.9 L869.87 498.7 L870.07 497.2 L870.27 480.6 L870.47 488.5 L870.67 488.0 L870.88 498.2 L871.10 500.9 L871.32 501.6 L871.53 490.4 L871.55 504.0 L871.77 494.0 L872.00 522.7 L872.23 499.6 L872.45 514.4 L872.52 498.2 L872.72 506.6 L872.93 513.8 L873.13 493.8 L873.33 490.6 L873.58 514.9 L873.83 497.1 L874.07 492.5 L874.32 482.2 L874.49 485.7 L874.67 512.0 L874.84 507.0 L875.02 501.7 L875.20 477.3 L875.42 504.7 L875.66 489.0 L875.90 501.1 L876.14 494.0 L876.38 504.5 L876.59 486.5 L876.80 464.0 L876.98 472.6 L877.16 484.8 L877.33 496.0 L877.49 493.2 L877.65 452.9 L877.88 474.4 L878.12 485.8 L878.30 486.1 L878.48 463.5 L878.67 448.0 L878.87 458.0 L879.06 484.0 L879.26 491.2 L879.45 474.8 L879.65 457.8 L879.84 449.3 L880.00 485.4 L880.25 474.3 L880.49 467.4 L880.74 470.6 L880.98 492.3 L881.07 444.0 L881.28 466.1 L881.49 465.0 L881.71 478.1 L881.92 481.2 L882.13 496.0 L882.31 491.4 L882.49 490.5 L882.67 474.6 L882.88 479.2 L883.09 502.4 L883.30 498.7 L883.51 489.5 L883.72 492.6 L883.89 498.6 L884.07 510.8 L884.30 506.3 L884.53 498.6 L884.67 503.5 L884.80 514.7 L885.02 511.6 L885.24 504.1 L885.46 513.1 L885.67 518.3 L885.69 506.7 L885.94 514.2 L886.18 515.2 L886.42 512.7 L886.67 512.0 L886.67 522.3 L886.90 523.0 L887.14 521.8 L887.37 517.5 L887.47 529.4 L887.69 527.5 L887.92 521.4 L888.15 515.3 L888.38 515.5 L888.51 514.6 L888.65 531.9 L888.88 525.9 L889.11 516.6 L889.33 514.6 L889.56 529.3 L889.76 528.8 L889.96 519.6 L890.16 517.8 L890.37 517.6 L890.52 525.7 L890.67 529.4 L890.84 526.0 L891.00 509.9 L891.21 514.5 L891.41 524.5 L891.61 514.2 L891.80 515.3 L892.00 512.0 L892.14 513.5 L892.27 523.6 L892.49 507.7 L892.70 508.1 L892.91 513.9 L893.12 510.7 L893.33 488.0 L893.54 497.8 L893.74 491.9 L893.95 481.4 L894.12 508.9 L894.30 505.7 L894.40 458.1 L894.62 478.7 L894.85 491.8 L895.06 515.7 L895.26 513.2 L895.47 528.0 L895.64 521.9 L895.82 527.6 L896.00 501.3 L896.21 513.4 L896.42 523.8 L896.56 509.5 L896.71 502.8 L896.95 528.0 L897.19 522.5 L897.44 528.9 L897.68 530.4 L897.81 518.3 L897.95 516.0 L898.13 538.7 L898.36 534.0 L898.58 532.5 L898.67 520.0 L898.91 520.3 L899.15 524.3 L899.39 519.4 L899.63 527.3 L899.87 527.5 L900.11 528.9 L900.35 516.2 L900.47 529.8 L900.64 518.2 L900.80 502.6 L901.02 508.8 L901.25 509.9 L901.33 530.7 L901.55 523.0 L901.77 527.5 L901.98 519.9 L902.20 527.6 L902.42 532.4 L902.67 512.0 L902.79 517.1 L902.92 524.2 L903.15 525.2 L903.38 514.3 L903.60 506.4 L903.80 516.1 L904.00 525.4 L904.20 523.2 L904.40 521.2 L904.60 506.3 L904.80 504.0 L904.85 525.9 L905.06 508.5 L905.27 516.9 L905.49 518.2 L905.70 523.2 L905.91 524.5 L906.06 518.4 L906.22 498.0 L906.44 503.0 L906.67 476.8 L906.89 505.3 L907.12 506.3 L907.32 511.0 L907.52 522.4 L907.77 518.0 L908.02 518.1 L908.27 514.6 L908.34 529.4 L908.59 521.2 L908.84 527.6 L909.09 530.6 L909.33 533.4 L909.51 517.6 L909.73 523.6 L909.95 524.9 L910.17 527.1 L910.39 536.0 L910.53 531.9 L910.67 525.3 L910.91 526.1 L911.15 536.1 L911.32 526.8 L911.50 533.5 L911.67 524.9 L911.84 530.7 L912.00 540.0 L912.14 531.9 L912.28 525.5 L912.49 540.0 L912.70 529.1 L912.91 544.4 L913.12 528.0 L913.33 528.0 L913.55 528.4 L913.76 533.0 L913.97 529.4 L914.18 538.3 L914.31 530.1 L914.55 535.2 L914.79 536.7 L915.03 531.8 L915.18 541.8 L915.38 536.7 L915.59 532.7 L915.79 541.4 L916.00 533.3 L916.22 538.9 L916.43 538.9 L916.65 539.1 L916.86 530.8 L917.00 541.5 L917.22 541.1 L917.44 538.4 L917.65 541.0 L917.87 542.3 L917.94 530.7 L918.18 538.2 L918.42 538.0 L918.67 533.3 L918.90 532.6 L919.13 537.7 L919.33 538.0 L919.53 527.7 L919.76 528.2 L920.00 538.7 L920.18 536.5 L920.36 538.1 L920.53 520.0 L920.73 528.7 L920.93 538.5 L921.13 541.4 L921.33 541.0 L921.53 539.0 L921.73 536.9 L921.93 539.0 L922.13 516.0 L922.29 546.8 L922.52 544.2 L922.76 528.0 L922.99 526.1 L923.20 548.0 L923.40 542.1 L923.60 530.3 L923.80 535.4 L924.00 517.3 L924.19 539.4 L924.42 526.1 L924.65 534.4 L924.88 522.6 L925.10 532.7 L925.33 546.6 L925.56 545.9 L925.75 548.5 L925.94 544.8 L926.13 536.0 L926.31 538.6 L926.49 545.0 L926.67 549.4 L926.85 542.3 L927.04 544.0 L927.23 534.6 L927.40 543.6 L927.57 544.4 L927.74 550.8 L927.87 542.2 L928.00 534.6 L928.20 541.7 L928.40 546.9 L928.60 544.8 L928.80 535.4 L928.86 552.1 L929.06 549.6 L929.27 536.2 L929.48 538.8 L929.68 542.3 L929.89 540.4 L930.13 550.7 L930.31 548.3 L930.49 550.0 L930.67 536.0 L930.88 541.6 L931.09 535.9 L931.30 551.3 L931.49 538.1 L931.69 539.8 L931.89 534.9 L932.08 531.3 L932.23 550.4 L932.38 521.8 L932.53 514.6 L932.76 532.4 L932.98 533.4 L933.16 537.0 L933.33 545.4 L933.53 540.6 L933.73 539.6 L933.93 544.0 L934.13 538.6 L934.31 546.0 L934.55 541.8 L934.79 545.7 L935.03 544.4 L935.27 546.7 L935.33 537.8 L935.54 541.5 L935.76 545.1 L935.97 542.3 L936.18 543.0 L936.36 547.0 L936.53 551.5 L936.73 550.0 L936.93 547.7 L937.13 549.5 L937.33 544.0 L937.58 550.4 L937.82 550.8 L937.97 544.1 L938.11 542.7 L938.31 549.2 L938.51 544.2 L938.71 548.4 L938.91 548.1 L939.10 539.0 L939.32 547.9 L939.55 546.9 L939.77 547.4 L940.00 538.6 L940.23 544.9 L940.46 548.8 L940.69 547.8 L940.92 549.9 L941.13 546.2 L941.33 532.0 L941.57 542.4 L941.81 540.0 L942.05 546.7 L942.22 548.9 L942.39 550.1 L942.56 540.3 L942.75 542.8 L942.94 545.0 L943.13 550.5 L943.30 548.4 L943.47 544.0 L943.64 547.3 L943.82 548.4 L944.00 551.5 L944.17 544.1 L944.34 544.9 L944.58 543.9 L944.82 544.7 L945.05 551.0 L945.27 539.5 L945.45 546.9 L945.62 546.8 L945.79 545.5 L945.96 545.2 L946.13 538.6 L946.31 535.6 L946.49 537.9 L946.67 544.0 L946.87 535.9 L947.07 525.5 L947.27 520.6 L947.47 514.6 L947.68 510.0 L947.90 487.4 L948.00 522.7 L948.13 468.8 L948.27 390.6 L948.49 416.7 L948.72 435.4 L948.92 476.5 L949.13 473.6 L949.33 472.0 L949.51 467.8 L949.69 463.7 L949.87 448.0 L950.06 452.2 L950.26 466.8 L950.46 486.7 L950.70 473.8 L950.95 469.7 L951.20 466.6 L951.33 471.2 L951.47 498.7 L951.67 485.9 L951.87 476.8 L952.07 486.7 L952.27 490.8 L952.48 507.4 L952.53 462.6 L952.73 472.4 L952.93 477.4 L953.13 498.8 L953.33 512.0 L953.53 510.5 L953.73 477.0 L953.93 509.2 L954.13 474.6 L954.34 509.1 L954.53 500.6 L954.72 503.4 L954.92 482.1 L955.11 481.8 L955.20 520.0 L955.40 506.9 L955.60 515.9 L955.80 497.2 L956.00 488.0 L956.17 515.6 L956.33 526.7 L956.55 505.8 L956.76 508.4 L956.98 504.3 L957.16 499.6 L957.33 526.7 L957.51 522.4 L957.69 512.5 L957.87 506.6 L958.06 521.7 L958.25 518.7 L958.44 526.9 L958.64 520.1 L958.85 512.7 L959.05 509.9 L959.26 513.9 L959.47 509.3 L959.67 516.4 L959.87 510.8 L960.08 514.0 L960.28 513.8 L960.46 519.2 L960.63 528.9 L960.80 526.9 L960.98 522.2 L961.16 516.3 L961.33 504.5 L961.51 517.0 L961.69 523.1 L961.87 530.7 L962.06 522.9 L962.25 529.2 L962.45 515.9 L962.67 528.7 L962.90 528.5 L963.09 530.8 L963.28 524.0 L963.47 522.6 L963.64 527.0 L963.82 532.6 L964.00 534.7 L964.14 529.0 L964.28 522.6 L964.48 527.5 L964.69 532.6 L964.90 536.3 L965.10 523.7 L965.31 521.4 L965.45 537.0 L965.60 541.4 L965.78 531.8 L965.96 528.7 L966.13 522.6 L966.37 537.7 L966.61 530.4 L966.85 534.8 L966.98 530.5 L967.12 525.2 L967.34 528.8 L967.56 526.4 L967.78 523.3 L968.00 521.3 L968.24 524.4 L968.49 521.0 L968.73 532.3 L968.97 515.8 L969.10 531.7 L969.23 531.2 L969.44 531.8 L969.66 531.1 L969.87 514.6 L970.00 533.1 L970.13 536.0 L970.34 531.6 L970.54 512.1 L970.74 523.1 L970.95 512.4 L971.15 521.6 L971.20 462.6 L971.40 474.2 L971.60 495.5 L971.80 482.8 L972.00 506.7 L972.20 503.7 L972.40 492.6 L972.60 467.3 L972.80 461.3 L972.96 498.5 L973.11 507.3 L973.30 484.6 L973.48 499.2 L973.67 476.1 L973.90 495.7 L974.13 509.4 L974.31 502.6 L974.49 475.7 L974.67 473.3 L974.84 507.2 L975.01 496.2 L975.17 510.3 L975.39 500.4 L975.61 494.0 L975.82 476.8 L976.00 504.0 L976.20 488.1 L976.40 477.3 L976.60 477.7 L976.80 466.6 L977.03 485.3 L977.24 466.2 L977.45 486.4 L977.66 461.7 L977.87 485.4 L977.95 451.5 L978.17 432.9 L978.40 397.8 L978.62 427.1 L978.85 447.3 L978.96 494.2 L979.17 481.7 L979.37 455.3 L979.58 461.7 L979.79 486.7 L980.00 461.3 L980.22 472.3 L980.45 482.4 L980.67 499.6 L980.89 491.4 L981.12 508.0 L981.21 485.6 L981.44 499.3 L981.67 506.9 L981.90 500.6 L982.13 504.0 L982.35 514.4 L982.57 507.4 L982.80 513.2 L983.02 507.9 L983.12 518.6 L983.34 510.8 L983.56 514.7 L983.78 523.7 L984.00 512.0 L984.20 514.9 L984.39 524.5 L984.59 513.8 L984.79 528.7 L985.03 510.2 L985.26 515.3 L985.49 512.1 L985.73 528.1 L985.86 510.2 L986.06 511.3 L986.26 522.2 L986.46 511.1 L986.67 510.6 L986.91 512.4 L987.15 514.1 L987.39 520.7 L987.63 509.1 L987.86 524.4 L988.08 528.5 L988.32 505.2 L988.53 534.7 L988.76 520.3 L988.98 523.3 L989.16 500.8 L989.33 496.0 L989.54 507.1 L989.75 512.1 L989.96 516.8 L990.17 519.1 L990.37 497.8 L990.56 506.9 L990.75 494.1 L990.98 498.7 L991.20 487.4 L991.43 499.5 L991.65 504.5 L991.85 520.1 L992.05 506.7 L992.26 521.0 L992.47 519.5 L992.69 516.6 L992.90 520.6 L993.12 511.0 L993.33 509.3 L993.54 515.4 L993.75 510.2 L993.96 515.4 L994.18 506.8 L994.39 515.4 L994.61 527.1 L994.85 517.5 L995.09 512.2 L995.32 524.0 L995.55 525.3 L995.77 526.9 L996.00 512.0 L996.23 516.5 L996.45 517.0 L996.70 515.2 L996.94 509.8 L997.19 509.0 L997.44 513.0 L997.68 517.3 L997.68 501.7 L997.91 489.3 L998.13 465.3 L998.36 493.8 L998.58 476.7 L998.67 512.0 L998.90 508.2 L999.14 497.9 L999.37 508.4 L999.61 517.7 L999.80 480.3 L1000.00 480.0 L1000.14 501.9 L1000.28 513.2 L1000.48 506.0 L1000.68 484.4 L1000.88 490.2 L1001.07 483.5 L1001.20 510.1 L1001.33 517.4 L1001.51 501.0 L1001.69 513.6 L1001.87 490.6 L1002.06 499.5 L1002.25 503.3 L1002.44 520.1 L1002.66 493.7 L1002.89 498.5 L1003.08 504.2 L1003.27 496.6 L1003.47 525.4 L1003.64 518.1 L1003.82 513.2 L1004.00 488.0 L1004.20 528.0 L1004.43 505.1 L1004.67 518.1 L1004.90 518.4 L1005.13 508.6 L1005.33 531.1 L1005.53 517.5 L1005.73 525.5 L1005.93 514.0 L1006.13 514.6 L1006.35 518.0 L1006.56 525.8 L1006.78 518.2 L1006.99 531.0 L1007.10 517.7 L1007.34 525.1 L1007.58 529.4 L1007.82 530.2 L1008.00 520.0 L1008.20 524.0 L1008.40 533.7 L1008.60 534.4 L1008.80 537.4 L1008.85 515.7 L1009.08 521.3 L1009.32 525.9 L1009.56 523.7 L1009.79 531.8 L1009.87 514.6 L1010.04 520.8 L1010.22 523.9 L1010.40 531.7 L1010.59 525.8 L1010.79 526.4 L1010.98 522.6 L1011.22 527.8 L1011.47 533.4 L1011.64 531.6 L1011.82 528.4 L1012.00 525.3 L1012.13 526.8 L1012.27 537.3 L1012.50 530.0 L1012.73 533.1 L1012.97 519.9 L1013.13 518.0 L1013.28 534.0 L1013.50 518.8 L1013.71 511.1 L1013.92 511.2 L1014.13 506.6 L1014.37 511.7 L1014.60 528.4 L1014.84 525.5 L1015.07 529.1 L1015.10 500.0 L1015.33 514.7 L1015.55 504.8 L1015.78 507.5 L1016.00 498.6 L1016.13 492.9 L1016.27 525.4 L1016.43 504.0 L1016.60 471.3 L1016.80 445.3 L1017.02 527.1 L1017.15 520.6 L1017.29 523.0 L1017.42 515.9 L1017.56 507.2 L1017.69 461.0 L1017.82 444.0 L1017.96 445.7 L1018.09 377.9 L1018.23 372.6 L1018.36 411.8 L1018.49 391.9 L1018.63 420.0 L1018.76 375.5 L1018.90 362.1 L1019.03 288.4 L1019.16 330.5 L1019.30 291.9 L1019.43 165.5 L1019.57 269.1 L1019.70 123.5 L1019.83 163.2 L1019.97 160.0 L1020.10 186.0 L1020.24 221.1 L1020.37 246.8 L1020.50 246.3 L1020.64 233.1 L1020.77 250.4 L1020.91 224.0 L1021.04 273.2 L1021.17 294.2 L1021.31 273.2 L1021.44 309.4 L1021.58 333.4 L1021.71 342.8 L1021.84 334.0 L1021.98 353.6 L1022.11 363.3 L1022.25 366.2 L1022.38 386.1 L1022.51 368.5 L1022.65 372.6 L1022.78 384.0 L1022.92 351.0 L1023.05 341.6 L1023.18 361.5 L1023.32 365.0 L1023.45 397.2 L1023.59 412.4 L1023.72 410.6 L1023.85 424.7 L1023.99 407.4 L1024.12 389.6 L1024.26 396.6 L1024.39 410.6 L1024.52 407.7 L1024.66 423.5 L1024.79 443.4 L1024.93 445.7 L1025.06 414.2 L1025.19 400.7 L1025.33 416.5 L1025.46 420.6 L1025.60 435.8 L1025.73 428.8 L1025.86 443.4 L1026.00 434.6 L1026.13 442.2 L1026.27 443.4 L1026.40 445.7 L1026.53 439.9 L1026.67 446.3 L1026.80 442.2 L1026.94 450.4 L1027.07 456.9 L1027.20 456.3 L1027.34 463.9 L1027.47 456.3 L1027.61 445.7 L1027.74 445.7 L1027.87 368.5 L1028.01 396.0 L1028.14 406.0 L1028.28 410.1 L1028.41 411.2 L1028.54 414.7 L1028.68 401.9 L1028.81 421.2 L1028.95 423.5 L1029.08 409.5 L1029.21 418.8 L1029.35 404.2 L1029.48 421.2 L1029.62 429.4 L1029.79 440.8 L1029.96 412.3 L1030.14 409.6 L1030.20 457.1 L1030.43 455.4 L1030.66 451.7 L1030.89 453.7 L1031.12 457.0 L1031.30 436.9 L1031.54 441.5 L1031.77 453.4 L1032.00 434.6 L1032.22 454.4 L1032.44 463.1 L1032.66 463.1 L1032.88 472.0 L1033.11 444.8 L1033.33 481.4 L1033.56 469.8 L1033.78 469.9 L1033.87 448.0 L1034.10 447.8 L1034.33 446.8 L1034.56 444.2 L1034.79 449.3 L1035.02 440.0 L1035.24 431.9 L1035.47 412.0 L1035.69 444.6 L1035.92 429.6 L1036.12 447.0 L1036.32 452.3 L1036.53 458.8 L1036.73 444.4 L1036.93 459.1 L1037.13 443.2 L1037.33 434.6 L1037.41 450.5 L1037.65 435.8 L1037.89 450.0 L1038.13 456.0 L1038.14 426.4 L1038.33 433.7 L1038.52 426.6 L1038.71 437.9 L1038.90 443.3 L1039.05 418.8 L1039.20 408.0 L1039.40 430.9 L1039.60 433.2 L1039.80 401.3 L1039.92 461.4 L1040.11 436.8 L1040.29 395.1 L1040.50 387.7 L1040.70 373.1 L1040.80 458.7 L1040.95 394.1 L1041.11 399.0 L1041.35 418.0 L1041.60 406.3 L1041.81 413.9 L1042.03 445.1 L1042.24 443.4 L1042.45 443.2 L1042.67 442.6 L1042.87 458.5 L1043.07 452.0 L1043.27 449.3 L1043.47 477.4 L1043.70 462.2 L1043.94 460.9 L1044.17 465.6 L1044.41 469.9 L1044.65 457.3 L1044.88 479.1 L1045.11 467.0 L1045.33 450.6 L1045.56 461.1 L1045.78 475.0 L1046.02 460.9 L1046.26 464.3 L1046.49 462.5 L1046.73 472.4 L1046.96 459.0 L1047.20 434.6 L1047.40 435.4 L1047.60 437.1 L1047.80 470.2 L1048.00 472.0 L1048.08 425.1 L1048.31 427.5 L1048.53 391.4 L1048.76 421.2 L1048.98 429.3 L1049.21 434.1 L1049.44 466.1 L1049.67 456.7 L1049.90 443.8 L1050.13 440.0 L1050.31 463.1 L1050.49 477.4 L1050.67 486.7 L1050.89 461.2 L1051.11 449.7 L1051.33 463.3 L1051.56 452.0 L1051.78 472.6 L1052.00 440.5 L1052.22 464.0 L1052.44 468.2 L1052.67 478.8 L1052.89 482.9 L1053.11 485.5 L1053.33 496.0 L1053.56 468.2 L1053.78 459.9 L1054.00 462.8 L1054.22 488.8 L1054.44 477.3 L1054.67 469.3 L1054.89 474.4 L1055.11 473.2 L1055.33 482.6 L1055.56 475.5 L1055.78 495.6 L1056.00 509.4 L1056.20 490.7 L1056.40 478.2 L1056.60 491.9 L1056.80 474.6 L1057.03 490.0 L1057.26 491.8 L1057.49 484.1 L1057.72 470.0 L1057.95 468.5 L1058.18 469.3 L1058.40 446.6 L1058.53 459.8 L1058.67 504.0 L1058.85 474.7 L1059.08 484.6 L1059.31 488.7 L1059.54 500.1 L1059.77 489.9 L1060.00 482.6 L1060.22 493.9 L1060.44 500.7 L1060.67 488.8 L1060.89 494.2 L1061.11 508.5 L1061.33 512.0 L1061.56 494.9 L1061.78 486.5 L1062.00 498.6 L1062.22 502.2 L1062.44 489.8 L1062.67 488.0 L1062.84 502.2 L1063.02 514.0 L1063.20 517.4 L1063.42 500.8 L1063.64 507.5 L1063.87 499.1 L1064.09 486.5 L1064.31 484.6 L1064.53 477.3 L1064.76 483.8 L1064.98 496.5 L1065.20 479.9 L1065.42 502.5 L1065.64 507.0 L1065.87 509.4 L1066.07 506.0 L1066.27 499.7 L1066.47 485.8 L1066.67 481.3 L1066.89 503.0 L1067.11 506.9 L1067.33 486.2 L1067.56 512.6 L1067.78 496.2 L1068.00 514.7 L1068.18 495.6 L1068.36 484.2 L1068.53 482.6 L1068.77 488.4 L1069.01 488.1 L1069.24 483.0 L1069.48 507.7 L1069.71 490.2 L1069.95 477.2 L1070.18 468.3 L1070.40 458.1 L1070.53 488.5 L1070.67 504.0 L1070.85 477.2 L1071.08 489.5 L1071.31 488.0 L1071.54 482.0 L1071.77 488.5 L1072.00 482.6 L1072.22 499.2 L1072.44 485.5 L1072.66 505.5 L1072.88 507.1 L1073.11 501.8 L1073.33 517.9 L1073.56 513.3 L1073.78 511.2 L1074.00 505.0 L1074.22 495.2 L1074.45 498.7 L1074.67 488.0 L1074.89 492.3 L1075.11 508.5 L1075.33 493.6 L1075.56 478.5 L1075.78 474.5 L1076.00 469.3 L1076.22 472.7 L1076.44 487.7 L1076.66 465.7 L1076.88 459.8 L1077.11 459.3 L1077.33 426.1 L1077.56 443.5 L1077.78 453.6 L1078.00 478.5 L1078.22 475.6 L1078.45 480.4 L1078.67 461.3 L1078.90 468.7 L1079.13 497.0 L1079.37 501.5 L1079.60 492.9 L1079.83 486.2 L1080.07 494.4 L1080.30 494.1 L1080.53 496.0 L1080.67 464.9 L1080.80 434.6 L1081.03 452.4 L1081.27 472.6 L1081.50 466.2 L1081.73 468.8 L1081.97 478.1 L1082.20 474.3 L1082.43 433.7 L1082.67 421.8 L1082.90 439.8 L1083.13 463.7 L1083.37 473.8 L1083.60 477.6 L1083.83 467.8 L1084.07 424.5 L1084.30 455.7 L1084.53 421.3 L1084.73 429.9 L1084.93 458.1 L1085.13 465.8 L1085.33 472.0 L1085.51 424.2 L1085.68 415.6 L1085.91 413.5 L1086.13 395.2 L1086.36 420.1 L1086.58 419.7 L1086.82 430.9 L1087.07 440.0 L1087.31 454.7 L1087.55 477.3 L1087.73 426.6 L1087.87 464.6 L1088.00 496.0 L1088.22 479.0 L1088.45 487.7 L1088.69 483.4 L1088.92 481.1 L1089.16 452.3 L1089.39 437.1 L1089.63 415.8 L1089.87 412.0 L1090.11 447.6 L1090.35 468.5 L1090.59 424.3 L1090.83 472.1 L1091.07 463.3 L1091.31 445.6 L1091.55 410.4 L1091.78 435.0 L1092.00 404.8 L1092.22 410.0 L1092.45 413.5 L1092.70 418.7 L1092.94 419.8 L1093.19 456.9 L1093.44 456.0 L1093.68 457.8 L1093.87 416.0 L1094.00 449.0 L1094.13 464.0 L1094.36 441.6 L1094.58 442.2 L1094.80 437.3 L1095.03 429.0 L1095.25 410.9 L1095.47 410.1 L1095.64 424.9 L1095.82 427.6 L1096.00 436.0 L1096.20 434.0 L1096.40 430.9 L1096.60 433.4 L1096.80 434.6" fill="none" stroke="#000" stroke-width="2.6" stroke-linejoin="round" stroke-linecap="round"/>

<line x1="1" y1="339.5" x2="1120" y2="339.5" stroke="#000" stroke-width="1.15" stroke-dasharray="8 8"/>
<rect class="red" x="261.5" y="300.5" width="195.3" height="71.5" stroke="#dc3050"/>
<rect class="red" x="618.4" y="121.0" width="44.4" height="136.3" stroke="#d8232a"/>
<rect class="red" x="997.5" y="111.3" width="51.1" height="155.2" stroke="#de3156"/>
<path class="red" stroke="#e02a55" d="M1074.6 281.6 L1087.5 360.4 M1077.7 348.8 L1087.5 360.4 L1092.5 345.9" stroke-linecap="round" stroke-linejoin="round"/>
<path d="M1126 82.6 H1121 V595.5" stroke="#000" stroke-width="2" fill="none"/>
<line x1="1121" y1="577.3" x2="1125" y2="577.3" stroke="#000" stroke-width="1.3"/>
<line x1="1121" y1="518.9" x2="1125" y2="518.9" stroke="#000" stroke-width="1.3"/>
<line x1="1121" y1="460.5" x2="1125" y2="460.5" stroke="#000" stroke-width="1.3"/>
<line x1="1121" y1="402.1" x2="1125" y2="402.1" stroke="#000" stroke-width="1.3"/>
<line x1="1121" y1="343.7" x2="1125" y2="343.7" stroke="#000" stroke-width="1.3"/>
<line x1="1121" y1="285.3" x2="1125" y2="285.3" stroke="#000" stroke-width="1.3"/>
<line x1="1121" y1="226.9" x2="1125" y2="226.9" stroke="#000" stroke-width="1.3"/>
<line x1="1121" y1="168.5" x2="1125" y2="168.5" stroke="#000" stroke-width="1.3"/>
<line x1="1121" y1="110.1" x2="1125" y2="110.1" stroke="#000" stroke-width="1.3"/>
<path d="M1121 545.5 L1128.5 548.1 L1121 550.7 Z" fill="#000"/>
<text class="cond" y="556.1" font-size="22"><tspan x="1130.02" textLength="23.63" lengthAdjust="spacingAndGlyphs">10</tspan></text>
<path d="M1121 487.1 L1128.5 489.7 L1121 492.3 Z" fill="#000"/>
<text class="cond" y="497.7" font-size="22"><tspan x="1129.75" textLength="23.91" lengthAdjust="spacingAndGlyphs">20</tspan></text>
<path d="M1121 428.7 L1128.5 431.3 L1121 433.9 Z" fill="#000"/>
<text class="cond" y="439.3" font-size="22"><tspan x="1129.75" textLength="23.91" lengthAdjust="spacingAndGlyphs">30</tspan></text>
<path d="M1121 370.3 L1128.5 372.9 L1121 375.5 Z" fill="#000"/>
<text class="cond" y="380.9" font-size="22"><tspan x="1130.70" textLength="22.94" lengthAdjust="spacingAndGlyphs">40</tspan></text>
<path d="M1121 311.9 L1128.5 314.5 L1121 317.1 Z" fill="#000"/>
<text class="cond" y="322.5" font-size="22"><tspan x="1129.75" textLength="23.91" lengthAdjust="spacingAndGlyphs">50</tspan></text>
<path d="M1121 253.5 L1128.5 256.1 L1121 258.7 Z" fill="#000"/>
<text class="cond" y="264.1" font-size="22"><tspan x="1129.75" textLength="23.91" lengthAdjust="spacingAndGlyphs">60</tspan></text>
<path d="M1121 195.1 L1128.5 197.7 L1121 200.3 Z" fill="#000"/>
<text class="cond" y="205.7" font-size="22"><tspan x="1129.75" textLength="23.91" lengthAdjust="spacingAndGlyphs">70</tspan></text>
<path d="M1121 136.7 L1128.5 139.3 L1121 141.9 Z" fill="#000"/>
<text class="cond" y="147.3" font-size="22"><tspan x="1129.75" textLength="23.91" lengthAdjust="spacingAndGlyphs">80</tspan></text>
<g transform="translate(1176.0 0) rotate(90)"><text class="cond" y="0.0" font-size="25.8"><tspan x="301.78" textLength="73.67" lengthAdjust="spacingAndGlyphs">Points</tspan></text>
</g>
<text class="cond" y="642.0" font-size="22"><tspan x="30.56" textLength="107.58" lengthAdjust="spacingAndGlyphs">1990-1994</tspan></text>
<text class="cond" y="642.0" font-size="22"><tspan x="199.81" textLength="107.58" lengthAdjust="spacingAndGlyphs">1995-1999</tspan></text>
<text class="cond" y="642.0" font-size="22"><tspan x="369.31" textLength="106.57" lengthAdjust="spacingAndGlyphs">2000-2004</tspan></text>
<text class="cond" y="642.0" font-size="22"><tspan x="537.81" textLength="106.57" lengthAdjust="spacingAndGlyphs">2005-2009</tspan></text>
<text class="cond" y="642.0" font-size="22"><tspan x="706.81" textLength="106.57" lengthAdjust="spacingAndGlyphs">2010-2014</tspan></text>
<text class="cond" y="642.0" font-size="22"><tspan x="875.31" textLength="106.57" lengthAdjust="spacingAndGlyphs">2015-2019</tspan></text>
<rect x="11" y="96.5" width="12" height="11" fill="#000"/>
<text class="cond" y="109.0" font-size="17.5"><tspan x="26.80" textLength="63.63" lengthAdjust="spacingAndGlyphs">Chicago</tspan> <tspan x="96.46" textLength="48.08" lengthAdjust="spacingAndGlyphs">Board</tspan> <tspan x="151.20" textLength="60.20" lengthAdjust="spacingAndGlyphs">Options</tspan> <tspan x="217.18" textLength="78.73" lengthAdjust="spacingAndGlyphs">Exchange</tspan> <tspan x="302.20" textLength="72.64" lengthAdjust="spacingAndGlyphs">Volatility</tspan> <tspan x="381.62" textLength="46.92" lengthAdjust="spacingAndGlyphs">Index</tspan> <tspan x="436.30" textLength="6.71" lengthAdjust="spacingAndGlyphs">-</tspan> <tspan x="449.19" textLength="36.29" lengthAdjust="spacingAndGlyphs">Last</tspan> <tspan x="490.10" textLength="42.16" lengthAdjust="spacingAndGlyphs">Price</tspan></text>
<text class="b" y="36.4" font-size="34.2"><tspan x="0.27" textLength="125.01" lengthAdjust="spacingAndGlyphs">Sleepy</tspan> <tspan x="140.30" textLength="68.17" lengthAdjust="spacingAndGlyphs">VIX</tspan></text>
<text class="cond b" y="69.0" font-size="26"><tspan x="0.43" textLength="75.62" lengthAdjust="spacingAndGlyphs">CBOE</tspan> <tspan x="87.00" textLength="121.75" lengthAdjust="spacingAndGlyphs">Volatility</tspan> <tspan x="221.34" textLength="78.74" lengthAdjust="spacingAndGlyphs">Index</tspan> <tspan x="313.34" textLength="85.85" lengthAdjust="spacingAndGlyphs">hasn't</tspan> <tspan x="410.40" textLength="41.28" lengthAdjust="spacingAndGlyphs">yet</tspan> <tspan x="463.38" textLength="63.30" lengthAdjust="spacingAndGlyphs">seen</tspan> <tspan x="538.98" textLength="72.40" lengthAdjust="spacingAndGlyphs">panic</tspan> <tspan x="623.46" textLength="48.44" lengthAdjust="spacingAndGlyphs">like</tspan> <tspan x="682.61" textLength="70.94" lengthAdjust="spacingAndGlyphs">other</tspan> <tspan x="767.60" textLength="59.94" lengthAdjust="spacingAndGlyphs">bear</tspan> <tspan x="840.99" textLength="94.60" lengthAdjust="spacingAndGlyphs">market</tspan> <tspan x="948.57" textLength="101.58" lengthAdjust="spacingAndGlyphs">periods</tspan></text>
<text class="b" y="288.9" font-size="16.4"><tspan x="33.30" textLength="18.25" lengthAdjust="spacingAndGlyphs">At</tspan> <tspan x="59.01" textLength="45.03" lengthAdjust="spacingAndGlyphs">least</tspan> <tspan x="112.50" textLength="24.64" lengthAdjust="spacingAndGlyphs">45</tspan></text>
<text class="b" y="309.9" font-size="16.4"><tspan x="32.30" textLength="60.31" lengthAdjust="spacingAndGlyphs">before</tspan> <tspan x="100.73" textLength="65.33" lengthAdjust="spacingAndGlyphs">bottom</tspan> <tspan x="169.06" textLength="8.91" lengthAdjust="spacingAndGlyphs">?</tspan></text>
<text class="b" y="667.6" font-size="17"><tspan x="4.77" textLength="75.09" lengthAdjust="spacingAndGlyphs">Source:</tspan> <tspan x="88.20" textLength="103.76" lengthAdjust="spacingAndGlyphs">Bloomberg</tspan></text>
<text class="lib b" y="667.0" font-size="23.5"><tspan x="1047.52" textLength="121.61" lengthAdjust="spacingAndGlyphs">Bloomberg</tspan></text>
<path d="M1181.4 649.3 H1193.6 Q1196.1 649.3 1196.1 651.8 V663.9 Q1196.1 666.4 1193.6 666.4 H1190.3 L1187.4 670 L1184.5 666.4 H1181.4 Q1178.9 666.4 1178.9 663.9 V651.8 Q1178.9 649.3 1181.4 649.3 Z" fill="#000"/>
<rect x="1181.3" y="659.2" width="1.7" height="3.6" fill="#fff"/><rect x="1184.9" y="655.8" width="1.6" height="7" fill="#fff"/><rect x="1188.2" y="653.7" width="1.7" height="9.1" fill="#fff"/><rect x="1191.8" y="658.9" width="1.6" height="3.9" fill="#fff"/>
</svg>
</body></html>
